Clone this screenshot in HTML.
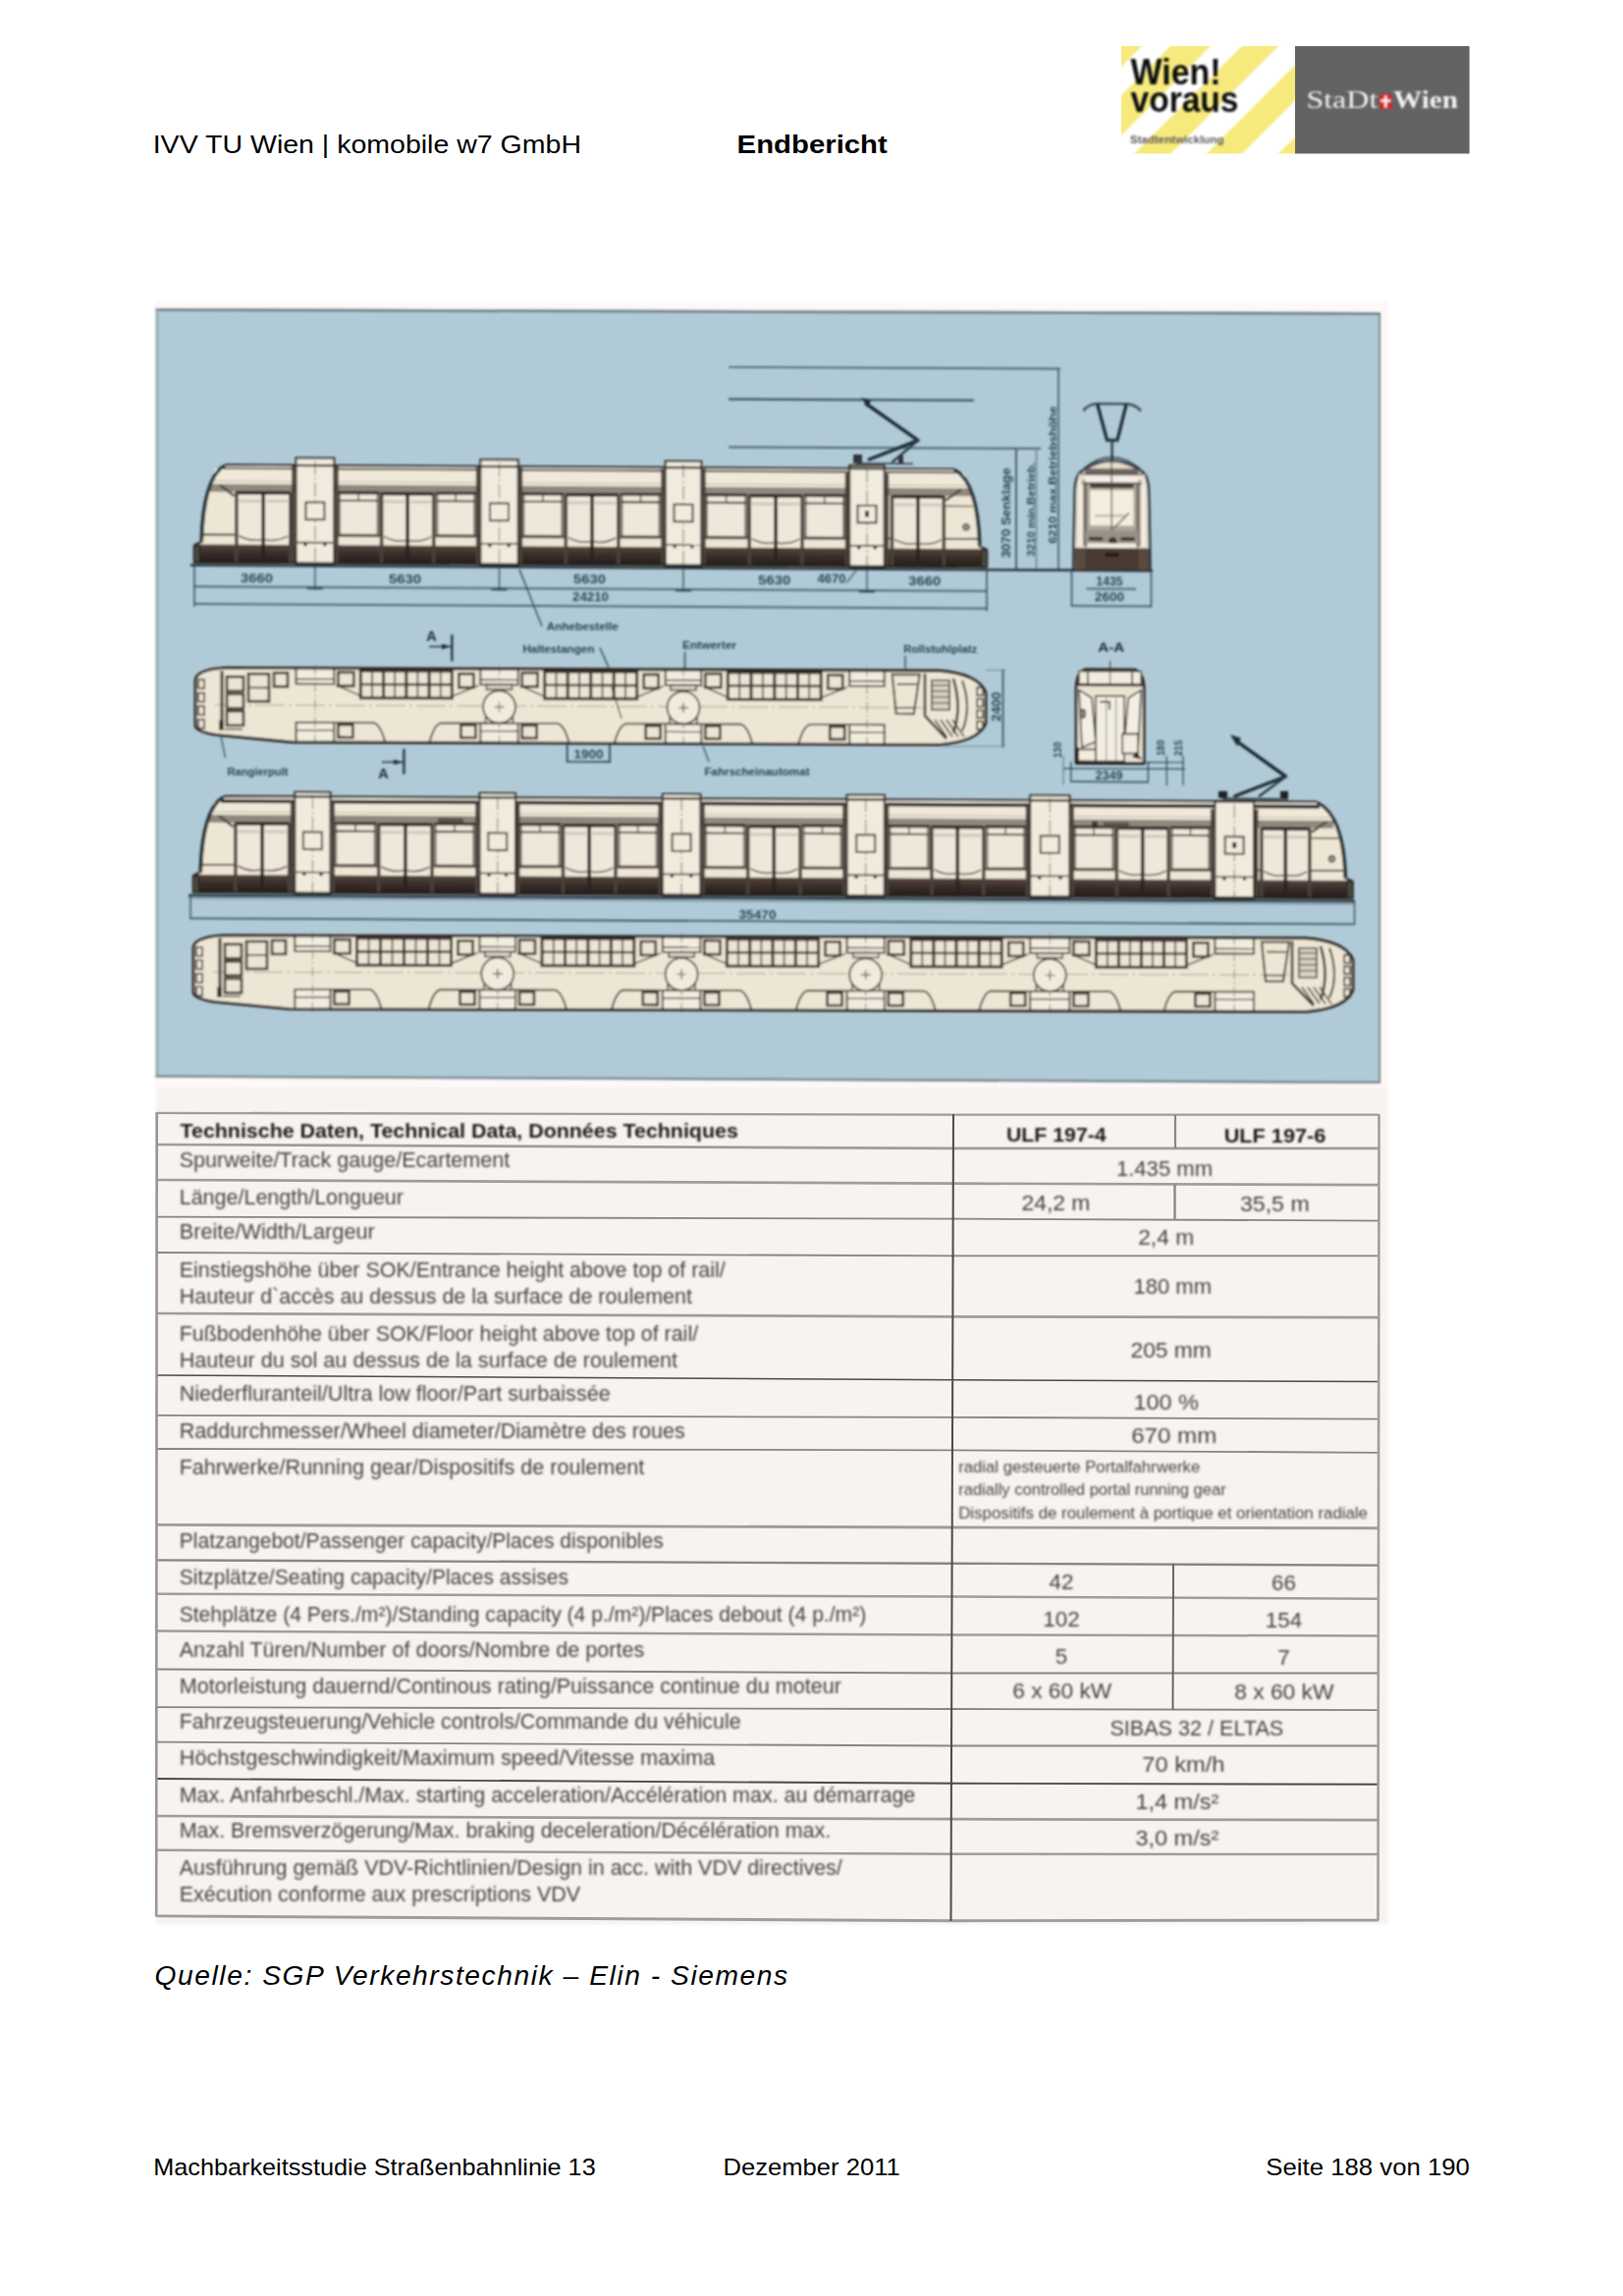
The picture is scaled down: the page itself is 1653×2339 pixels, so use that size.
<!DOCTYPE html>
<html><head><meta charset="utf-8"><title>Endbericht</title>
<style>
html,body{margin:0;padding:0;background:#fff;}
svg{display:block;}

</style></head><body>
<svg width="1653" height="2339" viewBox="0 0 1653 2339">
<defs>
<filter id="b1" x="-2%" y="-2%" width="104%" height="104%"><feGaussianBlur stdDeviation="0.85"/></filter>
<filter id="b2" x="-2%" y="-2%" width="104%" height="104%"><feGaussianBlur stdDeviation="0.55"/></filter>
<filter id="b3" x="-5%" y="-5%" width="110%" height="110%"><feGaussianBlur stdDeviation="0.9"/></filter>
<linearGradient id="skg" x1="0" y1="0" x2="0" y2="1"><stop offset="0" stop-color="#57473f"/><stop offset="0.45" stop-color="#3a2f2a"/><stop offset="1" stop-color="#241d1a"/></linearGradient>
<clipPath id="lc"><rect x="1142" y="47" width="177" height="109.5"/></clipPath>
</defs>
<text x="155.7" y="156.2" font-size="26.5" font-weight="normal" font-style="normal" fill="#000" font-family="Liberation Sans" text-anchor="start" textLength="436.3" lengthAdjust="spacingAndGlyphs" >IVV TU Wien | komobile w7 GmbH</text>
<text x="750.6" y="156.2" font-size="26.5" font-weight="bold" font-style="normal" fill="#000" font-family="Liberation Sans" text-anchor="start" textLength="153.2" lengthAdjust="spacingAndGlyphs" >Endbericht</text>
<text x="157.6" y="2021.8" font-size="28.2" font-weight="normal" font-style="italic" fill="#000" font-family="Liberation Sans" text-anchor="start" textLength="644.5" lengthAdjust="spacing" >Quelle:  SGP Verkehrstechnik – Elin - Siemens</text>
<text x="156.2" y="2215.5" font-size="23.4" font-weight="normal" font-style="normal" fill="#000" font-family="Liberation Sans" text-anchor="start" textLength="450.5" lengthAdjust="spacingAndGlyphs" >Machbarkeitsstudie Straßenbahnlinie 13</text>
<text x="736.5" y="2215.5" font-size="23.4" font-weight="normal" font-style="normal" fill="#000" font-family="Liberation Sans" text-anchor="start" textLength="180.3" lengthAdjust="spacingAndGlyphs" >Dezember 2011</text>
<text x="1289.3" y="2215.5" font-size="23.4" font-weight="normal" font-style="normal" fill="#000" font-family="Liberation Sans" text-anchor="start" textLength="207.6" lengthAdjust="spacingAndGlyphs" >Seite 188 von 190</text>
<rect x="1142.0" y="47.0" width="177.0" height="109.5" fill="#ffffff" />
<g clip-path="url(#lc)"><g filter="url(#b3)">
<path d="M1125,41 L1169,41 L1047.5,162.5 L1003.5,162.5 Z" fill="#f6ea7c" />
<path d="M1198,41 L1239,41 L1117.5,162.5 L1076.5,162.5 Z" fill="#f6ea7c" />
<path d="M1271,41 L1308,41 L1186.5,162.5 L1149.5,162.5 Z" fill="#f6ea7c" />
<path d="M1344.5,41 L1380.5,41 L1259.0,162.5 L1223.0,162.5 Z" fill="#f6ea7c" />
<path d="M1417.7,41 L1453.7,41 L1332.2,162.5 L1296.2,162.5 Z" fill="#f6ea7c" />
</g>
</g>
<g filter="url(#b1)">
<text x="1151.5" y="86.4" font-size="36" font-weight="bold" font-style="normal" fill="#111" font-family="Liberation Sans" text-anchor="start" textLength="92.0" lengthAdjust="spacingAndGlyphs" >Wien!</text>
<text x="1151.5" y="113.5" font-size="36" font-weight="bold" font-style="normal" fill="#111" font-family="Liberation Sans" text-anchor="start" textLength="110.0" lengthAdjust="spacingAndGlyphs" >voraus</text>
<text x="1151.0" y="146.0" font-size="10.5" font-weight="bold" font-style="normal" fill="#5a5a5a" font-family="Liberation Sans" text-anchor="start" textLength="95.5" lengthAdjust="spacingAndGlyphs" >Stadtentwicklung</text>
</g>
<rect x="1319.0" y="47.0" width="177.6" height="109.5" fill="#636363" />
<g filter="url(#b1)">
<text x="1330.4" y="109.5" font-size="26" font-weight="normal" font-style="normal" fill="#f2f2f2" font-family="Liberation Serif" text-anchor="start" textLength="73.0" lengthAdjust="spacingAndGlyphs" >StaDt</text>
<rect x="1405.0" y="96.0" width="12.5" height="14.8" fill="#d8232a" />
<rect x="1410.2" y="97.5" width="2.2" height="12.0" fill="#fff" />
<rect x="1406.3" y="101.5" width="10.0" height="2.2" fill="#fff" />
<text x="1419.0" y="109.5" font-size="26" font-weight="bold" font-style="normal" fill="#f2f2f2" font-family="Liberation Serif" text-anchor="start" textLength="66.0" lengthAdjust="spacingAndGlyphs" >Wien</text>
</g>
<g filter="url(#b1)">
<rect x="158.5" y="307.5" width="1255.5" height="1653.0" fill="#f8f3f1" />
<rect x="158.5" y="307.5" width="1255.5" height="800.0" fill="#fcf9f8" />
<path d="M158.5,314 L1406,318 L1406,1103.7 L158.5,1097.3 Z" fill="#b0cbd7" />
<path d="M158.5,315.5 L1406,319.5" fill="none" stroke="#6f8088" stroke-width="3" />
<path d="M160,315 L160,1097" fill="none" stroke="#98a8ab" stroke-width="2.6" />
<path d="M1405.3,319 L1405.3,1103" fill="none" stroke="#5c676b" stroke-width="1.7" />
<path d="M158.5,1096.5 L1406,1102.8" fill="none" stroke="#74868e" stroke-width="2.6" />
</g>
<g filter="url(#b1)">
<line x1="742.0" y1="374.0" x2="1080.0" y2="375.6" stroke="#3f5560" stroke-width="1.6" />
<line x1="742.0" y1="406.6" x2="992.0" y2="407.8" stroke="#3f5560" stroke-width="2.2" />
<line x1="742.0" y1="455.6" x2="1060.0" y2="457.0" stroke="#4f6570" stroke-width="2.0" />
<line x1="1078.0" y1="375.0" x2="1078.0" y2="580.3" stroke="#4f6570" stroke-width="1.8" />
<line x1="1035.0" y1="457.0" x2="1035.0" y2="580.0" stroke="#3f5560" stroke-width="1.8" />
<line x1="1055.5" y1="457.0" x2="1055.5" y2="580.0" stroke="#6f858f" stroke-width="1.6" />
<g transform="matrix(1,0.0058,0,1,0,-1.148)">
<path d="M198,573 L198,555.5 L206,551.5 Q208,485.5 230,473.5 L971,473.5 Q995,485.5 997,551.5 L1005,555.5 L1005,573 Z" fill="#eee6d4" />
<rect x="228.0" y="473.5" width="745.0" height="4.5" fill="#f7f3ea" />
<rect x="226.0" y="476.0" width="749.0" height="2.0" fill="#2a2421" />
<rect x="218.0" y="478.0" width="765.0" height="15.0" fill="#f0e9d9" />
<rect x="212.0" y="493.0" width="777.0" height="8.0" fill="#8f887e" />
<line x1="216.0" y1="490.0" x2="985.0" y2="490.0" stroke="#bdb5a8" stroke-width="1" />
<line x1="206.0" y1="544.5" x2="997.0" y2="544.5" stroke="#4b413b" stroke-width="1.6" />
<path d="M198,573 L198,556.5 Q198,554.5 201,554.5 L1002,554.5 Q1005,554.5 1005,556.5 L1005,573 Z" fill="url(#skg)" />
<rect x="240.5" y="501.0" width="55.5" height="52.5" fill="#efe8da" />
<rect x="240.5" y="500.0" width="55.5" height="3.5" fill="#2a2421" />
<rect x="239.0" y="501.0" width="3.6" height="72.0" fill="#4b413b" />
<rect x="294.0" y="501.0" width="3.6" height="72.0" fill="#4b413b" />
<rect x="266.4" y="501.0" width="3.6" height="72.0" fill="#2a2421" />
<line x1="243.5" y1="510.0" x2="265.2" y2="510.0" stroke="#cfc8ba" stroke-width="3" />
<line x1="271.2" y1="510.0" x2="293.0" y2="510.0" stroke="#cfc8ba" stroke-width="3" />
<path d="M243.5,545.5 Q254.375,551.5 266.25,549.5" fill="none" stroke="#4b413b" stroke-width="1.5" />
<path d="M293.0,545.5 Q282.125,551.5 270.25,549.5" fill="none" stroke="#4b413b" stroke-width="1.5" />
<path d="M224,494 L238.5,505" fill="none" stroke="#4b413b" stroke-width="2.4" />
<line x1="207.0" y1="544.5" x2="238.5" y2="544.5" stroke="#4b413b" stroke-width="1.8" />
<rect x="345.3" y="501.0" width="40.0" height="43.5" fill="#efe8da" stroke="#7d756c" stroke-width="3.4" />
<line x1="344.3" y1="501.0" x2="386.3" y2="501.0" stroke="#2a2421" stroke-width="2.6" />
<line x1="344.3" y1="544.5" x2="386.3" y2="544.5" stroke="#4b413b" stroke-width="2.2" />
<line x1="345.3" y1="509.0" x2="385.3" y2="509.0" stroke="#2a2421" stroke-width="1.8" />
<line x1="365.3" y1="501.0" x2="365.3" y2="509.0" stroke="#4b413b" stroke-width="1.4" />
<rect x="388.3" y="501.0" width="53.6" height="52.5" fill="#efe8da" />
<rect x="388.3" y="500.0" width="53.6" height="3.5" fill="#2a2421" />
<rect x="386.8" y="501.0" width="3.6" height="72.0" fill="#4b413b" />
<rect x="439.9" y="501.0" width="3.6" height="72.0" fill="#4b413b" />
<rect x="413.3" y="501.0" width="3.6" height="72.0" fill="#2a2421" />
<line x1="391.3" y1="510.0" x2="412.1" y2="510.0" stroke="#cfc8ba" stroke-width="3" />
<line x1="418.1" y1="510.0" x2="438.9" y2="510.0" stroke="#cfc8ba" stroke-width="3" />
<path d="M391.278,545.5 Q401.688,551.5 413.098,549.5" fill="none" stroke="#4b413b" stroke-width="1.5" />
<path d="M438.918,545.5 Q428.50800000000004,551.5 417.098,549.5" fill="none" stroke="#4b413b" stroke-width="1.5" />
<rect x="444.6" y="501.0" width="39.2" height="43.5" fill="#efe8da" stroke="#7d756c" stroke-width="3.4" />
<line x1="443.6" y1="501.0" x2="484.8" y2="501.0" stroke="#2a2421" stroke-width="2.6" />
<line x1="443.6" y1="544.5" x2="484.8" y2="544.5" stroke="#4b413b" stroke-width="2.2" />
<line x1="444.6" y1="509.0" x2="483.8" y2="509.0" stroke="#2a2421" stroke-width="1.8" />
<line x1="464.2" y1="501.0" x2="464.2" y2="509.0" stroke="#4b413b" stroke-width="1.4" />
<rect x="532.7" y="501.0" width="40.3" height="43.5" fill="#efe8da" stroke="#7d756c" stroke-width="3.4" />
<line x1="531.7" y1="501.0" x2="574.0" y2="501.0" stroke="#2a2421" stroke-width="2.6" />
<line x1="531.7" y1="544.5" x2="574.0" y2="544.5" stroke="#4b413b" stroke-width="2.2" />
<line x1="532.7" y1="509.0" x2="573.0" y2="509.0" stroke="#2a2421" stroke-width="1.8" />
<line x1="552.9" y1="501.0" x2="552.9" y2="509.0" stroke="#4b413b" stroke-width="1.4" />
<rect x="576.0" y="501.0" width="54.0" height="52.5" fill="#efe8da" />
<rect x="576.0" y="500.0" width="54.0" height="3.5" fill="#2a2421" />
<rect x="574.5" y="501.0" width="3.6" height="72.0" fill="#4b413b" />
<rect x="628.0" y="501.0" width="3.6" height="72.0" fill="#4b413b" />
<rect x="601.2" y="501.0" width="3.6" height="72.0" fill="#2a2421" />
<line x1="579.0" y1="510.0" x2="600.0" y2="510.0" stroke="#cfc8ba" stroke-width="3" />
<line x1="606.0" y1="510.0" x2="627.0" y2="510.0" stroke="#cfc8ba" stroke-width="3" />
<path d="M579.0,545.5 Q589.5,551.5 601.0,549.5" fill="none" stroke="#4b413b" stroke-width="1.5" />
<path d="M627.0,545.5 Q616.5,551.5 605.0,549.5" fill="none" stroke="#4b413b" stroke-width="1.5" />
<rect x="632.7" y="501.0" width="39.5" height="43.5" fill="#efe8da" stroke="#7d756c" stroke-width="3.4" />
<line x1="631.7" y1="501.0" x2="673.2" y2="501.0" stroke="#2a2421" stroke-width="2.6" />
<line x1="631.7" y1="544.5" x2="673.2" y2="544.5" stroke="#4b413b" stroke-width="2.2" />
<line x1="632.7" y1="509.0" x2="672.2" y2="509.0" stroke="#2a2421" stroke-width="1.8" />
<line x1="652.5" y1="501.0" x2="652.5" y2="509.0" stroke="#4b413b" stroke-width="1.4" />
<rect x="719.3" y="501.0" width="40.6" height="43.5" fill="#efe8da" stroke="#7d756c" stroke-width="3.4" />
<line x1="718.3" y1="501.0" x2="760.9" y2="501.0" stroke="#2a2421" stroke-width="2.6" />
<line x1="718.3" y1="544.5" x2="760.9" y2="544.5" stroke="#4b413b" stroke-width="2.2" />
<line x1="719.3" y1="509.0" x2="759.9" y2="509.0" stroke="#2a2421" stroke-width="1.8" />
<line x1="739.6" y1="501.0" x2="739.6" y2="509.0" stroke="#4b413b" stroke-width="1.4" />
<rect x="762.9" y="501.0" width="54.3" height="52.5" fill="#efe8da" />
<rect x="762.9" y="500.0" width="54.3" height="3.5" fill="#2a2421" />
<rect x="761.4" y="501.0" width="3.6" height="72.0" fill="#4b413b" />
<rect x="815.2" y="501.0" width="3.6" height="72.0" fill="#4b413b" />
<rect x="788.3" y="501.0" width="3.6" height="72.0" fill="#2a2421" />
<line x1="765.9" y1="510.0" x2="787.1" y2="510.0" stroke="#cfc8ba" stroke-width="3" />
<line x1="793.1" y1="510.0" x2="814.2" y2="510.0" stroke="#cfc8ba" stroke-width="3" />
<path d="M765.8898,545.5 Q776.4708,551.5 788.0518,549.5" fill="none" stroke="#4b413b" stroke-width="1.5" />
<path d="M814.2138,545.5 Q803.6328,551.5 792.0518,549.5" fill="none" stroke="#4b413b" stroke-width="1.5" />
<rect x="819.9" y="501.0" width="39.8" height="43.5" fill="#efe8da" stroke="#7d756c" stroke-width="3.4" />
<line x1="818.9" y1="501.0" x2="860.7" y2="501.0" stroke="#2a2421" stroke-width="2.6" />
<line x1="818.9" y1="544.5" x2="860.7" y2="544.5" stroke="#4b413b" stroke-width="2.2" />
<line x1="819.9" y1="509.0" x2="859.7" y2="509.0" stroke="#2a2421" stroke-width="1.8" />
<line x1="839.8" y1="501.0" x2="839.8" y2="509.0" stroke="#4b413b" stroke-width="1.4" />
<rect x="908.2" y="501.0" width="53.3" height="52.5" fill="#efe8da" />
<rect x="908.2" y="500.0" width="53.3" height="3.5" fill="#2a2421" />
<rect x="906.7" y="501.0" width="3.6" height="72.0" fill="#4b413b" />
<rect x="959.5" y="501.0" width="3.6" height="72.0" fill="#4b413b" />
<rect x="933.1" y="501.0" width="3.6" height="72.0" fill="#2a2421" />
<line x1="911.2" y1="510.0" x2="931.9" y2="510.0" stroke="#cfc8ba" stroke-width="3" />
<line x1="937.9" y1="510.0" x2="958.5" y2="510.0" stroke="#cfc8ba" stroke-width="3" />
<path d="M911.2,545.5 Q921.5250000000001,551.5 932.85,549.5" fill="none" stroke="#4b413b" stroke-width="1.5" />
<path d="M958.5,545.5 Q948.175,551.5 936.85,549.5" fill="none" stroke="#4b413b" stroke-width="1.5" />
<path d="M979,494 L963.5,505" fill="none" stroke="#4b413b" stroke-width="2.4" />
<line x1="996.0" y1="544.5" x2="963.5" y2="544.5" stroke="#4b413b" stroke-width="1.8" />
<line x1="963.5" y1="511.0" x2="991.0" y2="511.0" stroke="#4b413b" stroke-width="1.4" />
<circle cx="984" cy="532.5" r="3.2" fill="#9a9288" stroke="#4b413b" stroke-width="1.2"/>
<rect x="301.5" y="466.0" width="38.8" height="108.0" fill="#f1ebdd" stroke="#2a2421" stroke-width="2" />
<line x1="320.9" y1="469.0" x2="320.9" y2="574.0" stroke="#7b736b" stroke-width="1" stroke-dasharray="14 3 2 3"/>
<rect x="311.4" y="511.0" width="19.0" height="17.5" fill="#f1ebdd" stroke="#4b413b" stroke-width="2" />
<line x1="301.5" y1="552.0" x2="340.3" y2="552.0" stroke="#4b413b" stroke-width="1.6" />
<rect x="309.5" y="552.0" width="3.0" height="3.5" fill="#2a2421" />
<rect x="329.3" y="552.0" width="3.0" height="3.5" fill="#2a2421" />
<rect x="297.0" y="474.0" width="3.5" height="99.0" fill="#4b413b" />
<rect x="341.3" y="474.0" width="3.5" height="99.0" fill="#4b413b" />
<rect x="489.3" y="466.5" width="38.4" height="107.5" fill="#f1ebdd" stroke="#2a2421" stroke-width="2" />
<line x1="508.5" y1="469.5" x2="508.5" y2="574.0" stroke="#7b736b" stroke-width="1" stroke-dasharray="14 3 2 3"/>
<rect x="499.0" y="511.0" width="19.0" height="17.5" fill="#f1ebdd" stroke="#4b413b" stroke-width="2" />
<line x1="489.3" y1="552.0" x2="527.7" y2="552.0" stroke="#4b413b" stroke-width="1.6" />
<rect x="497.3" y="552.0" width="3.0" height="3.5" fill="#2a2421" />
<rect x="516.7" y="552.0" width="3.0" height="3.5" fill="#2a2421" />
<rect x="484.8" y="474.5" width="3.5" height="98.5" fill="#4b413b" />
<rect x="528.7" y="474.5" width="3.5" height="98.5" fill="#4b413b" />
<rect x="677.7" y="467.0" width="36.6" height="107.0" fill="#f1ebdd" stroke="#2a2421" stroke-width="2" />
<line x1="696.0" y1="470.0" x2="696.0" y2="574.0" stroke="#7b736b" stroke-width="1" stroke-dasharray="14 3 2 3"/>
<rect x="686.5" y="511.0" width="19.0" height="17.5" fill="#f1ebdd" stroke="#4b413b" stroke-width="2" />
<line x1="677.7" y1="552.0" x2="714.3" y2="552.0" stroke="#4b413b" stroke-width="1.6" />
<rect x="685.7" y="552.0" width="3.0" height="3.5" fill="#2a2421" />
<rect x="703.3" y="552.0" width="3.0" height="3.5" fill="#2a2421" />
<rect x="673.2" y="475.0" width="3.5" height="98.0" fill="#4b413b" />
<rect x="715.3" y="475.0" width="3.5" height="98.0" fill="#4b413b" />
<rect x="865.2" y="470.5" width="35.5" height="103.5" fill="#f1ebdd" stroke="#2a2421" stroke-width="2" />
<line x1="883.0" y1="473.5" x2="883.0" y2="574.0" stroke="#7b736b" stroke-width="1" stroke-dasharray="14 3 2 3"/>
<rect x="873.5" y="511.0" width="19.0" height="17.5" fill="#f1ebdd" stroke="#4b413b" stroke-width="2" />
<rect x="881.0" y="516.5" width="4.0" height="6.0" fill="#2a2421" />
<line x1="865.2" y1="552.0" x2="900.7" y2="552.0" stroke="#4b413b" stroke-width="1.6" />
<rect x="873.2" y="552.0" width="3.0" height="3.5" fill="#2a2421" />
<rect x="889.7" y="552.0" width="3.0" height="3.5" fill="#2a2421" />
<rect x="860.7" y="478.5" width="3.5" height="94.5" fill="#4b413b" />
<rect x="901.7" y="478.5" width="3.5" height="94.5" fill="#4b413b" />
<path d="M198,573 L198,555.5 L206,551.5 Q208,485.5 230,473.5 L971,473.5 Q995,485.5 997,551.5 L1005,555.5 L1005,573 Z" fill="none" stroke="#2a2421" stroke-width="2.2" />
<path d="M205,550.5 Q207,487.5 228,474.5" fill="none" stroke="#27323a" stroke-width="3.2" />
<path d="M998,550.5 Q996,487.5 973,474.5" fill="none" stroke="#27323a" stroke-width="3.2" />
<rect x="197.5" y="555.5" width="6.0" height="17.5" fill="#4a4a42" stroke="#2a2421" stroke-width="1.5" rx="2"/>
<rect x="999.5" y="555.5" width="6.0" height="17.5" fill="#4a4a42" stroke="#2a2421" stroke-width="1.5" rx="2"/>
</g>
<g transform="matrix(1,0.0058,0,1,0,-1.148)">
<line x1="194.0" y1="575.8" x2="1174.0" y2="575.8" stroke="#27323a" stroke-width="2.6" />
<line x1="198.0" y1="597.5" x2="1005.0" y2="597.5" stroke="#2a4757" stroke-width="1.5" />
<line x1="198.0" y1="615.3" x2="1005.0" y2="615.3" stroke="#2a4757" stroke-width="1.5" />
<line x1="198.0" y1="576.0" x2="198.0" y2="618.0" stroke="#2a4757" stroke-width="1.4" />
<line x1="1005.0" y1="576.0" x2="1005.0" y2="618.0" stroke="#2a4757" stroke-width="1.4" />
<line x1="320.9" y1="576.0" x2="320.9" y2="600.0" stroke="#2a4757" stroke-width="1.2" />
<line x1="312.9" y1="598.5" x2="328.9" y2="598.5" stroke="#2a4757" stroke-width="2.2" />
<line x1="508.5" y1="576.0" x2="508.5" y2="600.0" stroke="#2a4757" stroke-width="1.2" />
<line x1="500.5" y1="598.5" x2="516.5" y2="598.5" stroke="#2a4757" stroke-width="2.2" />
<line x1="696.0" y1="576.0" x2="696.0" y2="600.0" stroke="#2a4757" stroke-width="1.2" />
<line x1="688.0" y1="598.5" x2="704.0" y2="598.5" stroke="#2a4757" stroke-width="2.2" />
<line x1="883.0" y1="576.0" x2="883.0" y2="600.0" stroke="#2a4757" stroke-width="1.2" />
<line x1="875.0" y1="598.5" x2="891.0" y2="598.5" stroke="#2a4757" stroke-width="2.2" />
<text x="261.5" y="593.3" font-size="13.5" font-weight="bold" font-style="normal" fill="#2a4757" font-family="Liberation Sans" text-anchor="middle" textLength="33.0" lengthAdjust="spacingAndGlyphs" >3660</text>
<text x="412.4" y="593.3" font-size="13.5" font-weight="bold" font-style="normal" fill="#2a4757" font-family="Liberation Sans" text-anchor="middle" textLength="33.0" lengthAdjust="spacingAndGlyphs" >5630</text>
<text x="600.5" y="592.5" font-size="13.5" font-weight="bold" font-style="normal" fill="#2a4757" font-family="Liberation Sans" text-anchor="middle" textLength="33.0" lengthAdjust="spacingAndGlyphs" >5630</text>
<text x="788.7" y="592.5" font-size="13.5" font-weight="bold" font-style="normal" fill="#2a4757" font-family="Liberation Sans" text-anchor="middle" textLength="33.0" lengthAdjust="spacingAndGlyphs" >5630</text>
<text x="941.7" y="592.5" font-size="13.5" font-weight="bold" font-style="normal" fill="#2a4757" font-family="Liberation Sans" text-anchor="middle" textLength="33.0" lengthAdjust="spacingAndGlyphs" >3660</text>
<text x="847.0" y="590.0" font-size="12" font-weight="bold" font-style="normal" fill="#2a4757" font-family="Liberation Sans" text-anchor="middle" textLength="29.0" lengthAdjust="spacingAndGlyphs" >4670</text>
<line x1="862.0" y1="590.0" x2="872.0" y2="577.0" stroke="#2a4757" stroke-width="1.2" />
<text x="601.5" y="610.5" font-size="13" font-weight="bold" font-style="normal" fill="#2a4757" font-family="Liberation Sans" text-anchor="middle" textLength="37.0" lengthAdjust="spacingAndGlyphs" >24210</text>
</g>
<line x1="529.0" y1="580.0" x2="552.0" y2="638.0" stroke="#2a4757" stroke-width="1.3" />
<path d="M881,410.5 L935,448.7 L884,468.5" fill="none" stroke="#1d2a33" stroke-width="3.4" stroke-linejoin="round"/>
<path d="M935,448.7 L908.5,471" fill="none" stroke="#2d3a43" stroke-width="2.4" />
<path d="M877,405 L887,408 L884,415 Z" fill="#1d2a33" />
<rect x="869.0" y="463.0" width="9.0" height="9.0" fill="#30363a" />
<rect x="915.0" y="464.0" width="5.0" height="8.0" fill="#30363a" />
<line x1="872.0" y1="472.0" x2="930.0" y2="472.5" stroke="#30363a" stroke-width="1.6" />
<text transform="translate(1029,568.6) rotate(-90)" font-size="12" font-weight="bold" fill="#2a4757" font-family="Liberation Sans" textLength="92" lengthAdjust="spacingAndGlyphs">3070 Senklage</text>
<text transform="translate(1054,567) rotate(-90)" font-size="11.5" font-weight="bold" fill="#2a4757" font-family="Liberation Sans" textLength="96" lengthAdjust="spacingAndGlyphs">3210 min.Betrieb.</text>
<text transform="translate(1075.5,553.8) rotate(-90)" font-size="11.5" font-weight="bold" fill="#2a4757" font-family="Liberation Sans" textLength="140" lengthAdjust="spacingAndGlyphs">6210 max.Betriebshöhe</text>
<g transform="matrix(1,0.0058,0,1,0,-1.148)">
<path d="M1093.2,575.0 L1094.7,495.0 Q1095.2,478.0 1103.2,474.0 Q1132.35,454.0 1161.5,474.0 Q1169.5,478.0 1170.0,495.0 L1171.5,575.0 Z" fill="#e6ddcd" stroke="#27323a" stroke-width="2.6" />
<rect x="1105.2" y="472.0" width="54.3" height="7.0" fill="#6d655d" />
<rect x="1101.2" y="478.0" width="62.3" height="9.0" fill="#f4efe6" stroke="#4b413b" stroke-width="1.2" />
<rect x="1106.2" y="487.0" width="52.3" height="64.0" fill="#b0a79b" stroke="#4b413b" stroke-width="1.6" />
<rect x="1110.2" y="494.0" width="44.3" height="36.0" fill="#f3eedd" />
<rect x="1110.2" y="488.0" width="44.3" height="3.5" fill="#3f3631" />
<line x1="1115.2" y1="520.0" x2="1145.5" y2="520.0" stroke="#8d857a" stroke-width="1.2" />
<line x1="1132.3" y1="459.0" x2="1132.3" y2="535.0" stroke="#4b413b" stroke-width="1.2" />
<line x1="1134.0" y1="533.0" x2="1150.0" y2="517.0" stroke="#6d655d" stroke-width="1.6" />
<rect x="1105.2" y="535.0" width="54.3" height="13.0" fill="#9a9185" />
<rect x="1109.2" y="542.0" width="14.0" height="3.0" fill="#2a2421" />
<rect x="1141.5" y="542.0" width="14.0" height="3.0" fill="#2a2421" />
<circle cx="1133.35" cy="546.0" r="4.2" fill="#3a302b"/>
<rect x="1107.2" y="548.0" width="50.3" height="5.0" fill="#f2ece0" />
<rect x="1094.7" y="553.0" width="75.3" height="22.0" fill="#5a4840" />
<rect x="1105.2" y="553.0" width="54.3" height="22.0" fill="#493a33" />
<rect x="1125.3" y="558.0" width="14.0" height="3.5" fill="#1d1613" />
<line x1="1100.2" y1="478.0" x2="1100.2" y2="551.0" stroke="#f6f2ea" stroke-width="2.6" />
<line x1="1164.5" y1="478.0" x2="1164.5" y2="551.0" stroke="#f6f2ea" stroke-width="2.6" />
<line x1="1104.2" y1="483.0" x2="1104.2" y2="551.0" stroke="#5d544d" stroke-width="1.4" />
<line x1="1160.5" y1="483.0" x2="1160.5" y2="551.0" stroke="#5d544d" stroke-width="1.4" />
<path d="M1103.5,413 Q1108,407 1117,406 L1148,406 Q1157,407 1162,413" fill="none" stroke="#27323a" stroke-width="2.2" />
<path d="M1117.6,406 L1127.5,443 L1138,443 L1147.2,406" fill="none" stroke="#1d2a33" stroke-width="3.2" stroke-linejoin="round"/>
<line x1="1132.6" y1="443.0" x2="1132.6" y2="463.0" stroke="#27323a" stroke-width="2.2" />
<path d="M1104,472.0 Q1132,449.0 1161,472.0" fill="none" stroke="#27323a" stroke-width="1.6" />
<line x1="1091.5" y1="576.0" x2="1091.5" y2="613.0" stroke="#2a4757" stroke-width="1.4" />
<line x1="1172.5" y1="576.0" x2="1172.5" y2="613.0" stroke="#2a4757" stroke-width="1.4" />
<line x1="1091.5" y1="612.0" x2="1172.5" y2="612.0" stroke="#2a4757" stroke-width="1.6" />
<line x1="1106.5" y1="594.5" x2="1157.0" y2="594.5" stroke="#2a4757" stroke-width="1.4" />
<text x="1130.0" y="591.5" font-size="13" font-weight="bold" font-style="normal" fill="#2a4757" font-family="Liberation Sans" text-anchor="middle" textLength="27.0" lengthAdjust="spacingAndGlyphs" >1435</text>
<text x="1130.0" y="607.5" font-size="13" font-weight="bold" font-style="normal" fill="#2a4757" font-family="Liberation Sans" text-anchor="middle" textLength="30.0" lengthAdjust="spacingAndGlyphs" >2600</text>
</g>
</g>
<g filter="url(#b1)">
<g transform="matrix(1,0.0039,0,1,0,-0.776)">
<path d="M229,680.3 L956,680.3 Q996,683.3 1004,702.3 L1004,733.6 Q996,752.6 956,755.6 L297,755.6 L221,748.6 Q201,745.6 199,739.6 L199,692.3 Q201,682.3 229,680.3 Z" fill="#eee6d4" />
<line x1="219.0" y1="718.0" x2="944.0" y2="718.0" stroke="#a8a093" stroke-width="1" stroke-dasharray="30 4 3 4"/>
<line x1="226.0" y1="683.3" x2="226.0" y2="743.6" stroke="#3a322d" stroke-width="3" />
<rect x="202.0" y="692.3" width="6.0" height="9.0" fill="#ece4d4" stroke="#3a322d" stroke-width="1.6" />
<rect x="202.0" y="705.8" width="6.0" height="9.0" fill="#ece4d4" stroke="#3a322d" stroke-width="1.6" />
<rect x="202.0" y="719.3" width="6.0" height="9.0" fill="#ece4d4" stroke="#3a322d" stroke-width="1.6" />
<rect x="202.0" y="732.8" width="6.0" height="9.0" fill="#ece4d4" stroke="#3a322d" stroke-width="1.6" />
<rect x="231.0" y="689.3" width="17.0" height="14.5" fill="#ece4d4" stroke="#3a322d" stroke-width="2.6" />
<rect x="231.0" y="706.8" width="17.0" height="14.5" fill="#ece4d4" stroke="#3a322d" stroke-width="2.6" />
<rect x="231.0" y="724.3" width="17.0" height="14.5" fill="#ece4d4" stroke="#3a322d" stroke-width="2.6" />
<rect x="253.0" y="686.3" width="21.0" height="28.0" fill="#ece4d4" stroke="#3a322d" stroke-width="2.6" />
<line x1="253.0" y1="700.3" x2="274.0" y2="700.3" stroke="#3a322d" stroke-width="1.6" />
<rect x="279.0" y="685.3" width="14.0" height="14.0" fill="#ece4d4" stroke="#3a322d" stroke-width="2.6" />
<rect x="223.0" y="733.6" width="5.0" height="10.0" fill="#3a322d" />
<line x1="229.0" y1="742.6" x2="247.0" y2="742.6" stroke="#3a322d" stroke-width="1.4" />
<rect x="344.3" y="684.3" width="16.0" height="14.0" fill="#ece4d4" stroke="#3a322d" stroke-width="2.6" />
<rect x="367.3" y="682.8" width="93.0" height="27.5" fill="#ece4d4" stroke="#3a322d" stroke-width="3" />
<line x1="367.3" y1="696.5" x2="460.3" y2="696.5" stroke="#3a322d" stroke-width="2.4" />
<line x1="378.9" y1="682.8" x2="378.9" y2="710.3" stroke="#3a322d" stroke-width="1.5" />
<line x1="390.6" y1="682.8" x2="390.6" y2="710.3" stroke="#3a322d" stroke-width="3" />
<line x1="402.2" y1="682.8" x2="402.2" y2="710.3" stroke="#3a322d" stroke-width="1.5" />
<line x1="413.8" y1="682.8" x2="413.8" y2="710.3" stroke="#3a322d" stroke-width="3" />
<line x1="425.4" y1="682.8" x2="425.4" y2="710.3" stroke="#3a322d" stroke-width="1.5" />
<line x1="437.1" y1="682.8" x2="437.1" y2="710.3" stroke="#3a322d" stroke-width="3" />
<line x1="448.7" y1="682.8" x2="448.7" y2="710.3" stroke="#3a322d" stroke-width="1.5" />
<rect x="467.3" y="685.3" width="15.0" height="14.0" fill="#ece4d4" stroke="#3a322d" stroke-width="2.6" />
<line x1="342.3" y1="697.3" x2="367.3" y2="708.3" stroke="#3a322d" stroke-width="1.4" />
<line x1="487.3" y1="697.3" x2="460.3" y2="708.3" stroke="#3a322d" stroke-width="1.4" />
<path d="M341.3,735.6 L380.3,735.6 Q387.3,736.6 392.3,755.6" fill="none" stroke="#3a322d" stroke-width="1.8" />
<rect x="344.3" y="737.6" width="15.0" height="13.0" fill="#ece4d4" stroke="#3a322d" stroke-width="2.6" />
<path d="M488.3,735.6 L449.3,735.6 Q442.3,736.6 437.3,755.6" fill="none" stroke="#3a322d" stroke-width="1.8" />
<rect x="469.3" y="737.6" width="15.0" height="13.0" fill="#ece4d4" stroke="#3a322d" stroke-width="2.6" />
<rect x="531.7" y="684.3" width="16.0" height="14.0" fill="#ece4d4" stroke="#3a322d" stroke-width="2.6" />
<rect x="554.7" y="682.8" width="94.0" height="27.5" fill="#ece4d4" stroke="#3a322d" stroke-width="3" />
<line x1="554.7" y1="696.5" x2="648.7" y2="696.5" stroke="#3a322d" stroke-width="2.4" />
<line x1="566.5" y1="682.8" x2="566.5" y2="710.3" stroke="#3a322d" stroke-width="1.5" />
<line x1="578.2" y1="682.8" x2="578.2" y2="710.3" stroke="#3a322d" stroke-width="3" />
<line x1="590.0" y1="682.8" x2="590.0" y2="710.3" stroke="#3a322d" stroke-width="1.5" />
<line x1="601.7" y1="682.8" x2="601.7" y2="710.3" stroke="#3a322d" stroke-width="3" />
<line x1="613.5" y1="682.8" x2="613.5" y2="710.3" stroke="#3a322d" stroke-width="1.5" />
<line x1="625.2" y1="682.8" x2="625.2" y2="710.3" stroke="#3a322d" stroke-width="3" />
<line x1="637.0" y1="682.8" x2="637.0" y2="710.3" stroke="#3a322d" stroke-width="1.5" />
<rect x="655.7" y="685.3" width="15.0" height="14.0" fill="#ece4d4" stroke="#3a322d" stroke-width="2.6" />
<line x1="529.7" y1="697.3" x2="554.7" y2="708.3" stroke="#3a322d" stroke-width="1.4" />
<line x1="675.7" y1="697.3" x2="648.7" y2="708.3" stroke="#3a322d" stroke-width="1.4" />
<path d="M528.7,735.6 L567.7,735.6 Q574.7,736.6 579.7,755.6" fill="none" stroke="#3a322d" stroke-width="1.8" />
<rect x="531.7" y="737.6" width="15.0" height="13.0" fill="#ece4d4" stroke="#3a322d" stroke-width="2.6" />
<path d="M676.7,735.6 L637.7,735.6 Q630.7,736.6 625.7,755.6" fill="none" stroke="#3a322d" stroke-width="1.8" />
<rect x="657.7" y="737.6" width="15.0" height="13.0" fill="#ece4d4" stroke="#3a322d" stroke-width="2.6" />
<rect x="718.3" y="684.3" width="16.0" height="14.0" fill="#ece4d4" stroke="#3a322d" stroke-width="2.6" />
<rect x="741.3" y="682.8" width="94.9" height="27.5" fill="#ece4d4" stroke="#3a322d" stroke-width="3" />
<line x1="741.3" y1="696.5" x2="836.2" y2="696.5" stroke="#3a322d" stroke-width="2.4" />
<line x1="753.2" y1="682.8" x2="753.2" y2="710.3" stroke="#3a322d" stroke-width="1.5" />
<line x1="765.0" y1="682.8" x2="765.0" y2="710.3" stroke="#3a322d" stroke-width="3" />
<line x1="776.9" y1="682.8" x2="776.9" y2="710.3" stroke="#3a322d" stroke-width="1.5" />
<line x1="788.8" y1="682.8" x2="788.8" y2="710.3" stroke="#3a322d" stroke-width="3" />
<line x1="800.6" y1="682.8" x2="800.6" y2="710.3" stroke="#3a322d" stroke-width="1.5" />
<line x1="812.5" y1="682.8" x2="812.5" y2="710.3" stroke="#3a322d" stroke-width="3" />
<line x1="824.3" y1="682.8" x2="824.3" y2="710.3" stroke="#3a322d" stroke-width="1.5" />
<rect x="843.2" y="685.3" width="15.0" height="14.0" fill="#ece4d4" stroke="#3a322d" stroke-width="2.6" />
<line x1="716.3" y1="697.3" x2="741.3" y2="708.3" stroke="#3a322d" stroke-width="1.4" />
<line x1="863.2" y1="697.3" x2="836.2" y2="708.3" stroke="#3a322d" stroke-width="1.4" />
<path d="M715.3,735.6 L754.3,735.6 Q761.3,736.6 766.3,755.6" fill="none" stroke="#3a322d" stroke-width="1.8" />
<rect x="718.3" y="737.6" width="15.0" height="13.0" fill="#ece4d4" stroke="#3a322d" stroke-width="2.6" />
<path d="M864.2,735.6 L825.2,735.6 Q818.2,736.6 813.2,755.6" fill="none" stroke="#3a322d" stroke-width="1.8" />
<rect x="845.2" y="737.6" width="15.0" height="13.0" fill="#ece4d4" stroke="#3a322d" stroke-width="2.6" />
<rect x="301.5" y="680.3" width="38.8" height="16.0" fill="#f2ecdf" stroke="#3a322d" stroke-width="1.8" />
<rect x="301.5" y="735.6" width="38.8" height="20.0" fill="#f2ecdf" stroke="#3a322d" stroke-width="1.8" />
<line x1="301.5" y1="691.3" x2="340.3" y2="691.3" stroke="#3a322d" stroke-width="1.4" />
<line x1="301.5" y1="743.6" x2="340.3" y2="743.6" stroke="#3a322d" stroke-width="1.2" />
<line x1="320.9" y1="676.3" x2="320.9" y2="760.6" stroke="#8d857a" stroke-width="1" stroke-dasharray="10 3 2 3"/>
<rect x="489.3" y="680.3" width="38.4" height="16.0" fill="#f2ecdf" stroke="#3a322d" stroke-width="1.8" />
<rect x="489.3" y="735.6" width="38.4" height="20.0" fill="#f2ecdf" stroke="#3a322d" stroke-width="1.8" />
<line x1="489.3" y1="691.3" x2="527.7" y2="691.3" stroke="#3a322d" stroke-width="1.4" />
<line x1="489.3" y1="743.6" x2="527.7" y2="743.6" stroke="#3a322d" stroke-width="1.2" />
<line x1="508.5" y1="676.3" x2="508.5" y2="760.6" stroke="#8d857a" stroke-width="1" stroke-dasharray="10 3 2 3"/>
<rect x="677.7" y="680.3" width="36.6" height="16.0" fill="#f2ecdf" stroke="#3a322d" stroke-width="1.8" />
<rect x="677.7" y="735.6" width="36.6" height="20.0" fill="#f2ecdf" stroke="#3a322d" stroke-width="1.8" />
<line x1="677.7" y1="691.3" x2="714.3" y2="691.3" stroke="#3a322d" stroke-width="1.4" />
<line x1="677.7" y1="743.6" x2="714.3" y2="743.6" stroke="#3a322d" stroke-width="1.2" />
<line x1="696.0" y1="676.3" x2="696.0" y2="760.6" stroke="#8d857a" stroke-width="1" stroke-dasharray="10 3 2 3"/>
<rect x="865.2" y="680.3" width="35.5" height="16.0" fill="#f2ecdf" stroke="#3a322d" stroke-width="1.8" />
<rect x="865.2" y="735.6" width="35.5" height="20.0" fill="#f2ecdf" stroke="#3a322d" stroke-width="1.8" />
<line x1="865.2" y1="691.3" x2="900.7" y2="691.3" stroke="#3a322d" stroke-width="1.4" />
<line x1="865.2" y1="743.6" x2="900.7" y2="743.6" stroke="#3a322d" stroke-width="1.2" />
<line x1="883.0" y1="676.3" x2="883.0" y2="760.6" stroke="#8d857a" stroke-width="1" stroke-dasharray="10 3 2 3"/>
</g>
<g transform="matrix(1,0.0039,0,1,0,-0.776)">
<rect x="495.5" y="696.3" width="26.0" height="5.0" fill="#ddd5c6" stroke="#3a322d" stroke-width="1.4" />
<rect x="494.5" y="729.6" width="28.0" height="6.0" fill="#ddd5c6" stroke="#3a322d" stroke-width="1.4" />
<circle cx="508.5" cy="718.95" r="16.5" fill="#f1ebdd" stroke="#3a322d" stroke-width="1.7"/>
<line x1="503.5" y1="719.0" x2="513.5" y2="719.0" stroke="#3a322d" stroke-width="1" />
<line x1="508.5" y1="714.0" x2="508.5" y2="724.0" stroke="#3a322d" stroke-width="1" />
<rect x="683.0" y="696.3" width="26.0" height="5.0" fill="#ddd5c6" stroke="#3a322d" stroke-width="1.4" />
<rect x="682.0" y="729.6" width="28.0" height="6.0" fill="#ddd5c6" stroke="#3a322d" stroke-width="1.4" />
<circle cx="696.0" cy="718.95" r="16.5" fill="#f1ebdd" stroke="#3a322d" stroke-width="1.7"/>
<line x1="691.0" y1="719.0" x2="701.0" y2="719.0" stroke="#3a322d" stroke-width="1" />
<line x1="696.0" y1="714.0" x2="696.0" y2="724.0" stroke="#3a322d" stroke-width="1" />
</g>
<g transform="matrix(1,0.0039,0,1,0,-0.776)">
<path d="M908.7,684.3 L936.7,684.3 L930.7,724.3 L912.7,724.3 Z" fill="none" stroke="#3a322d" stroke-width="2" />
<line x1="913.7" y1="694.3" x2="933.7" y2="694.3" stroke="#3a322d" stroke-width="1.6" />
<line x1="912.7" y1="718.3" x2="930.7" y2="718.3" stroke="#3a322d" stroke-width="1.4" />
<path d="M942,683.3 L942,726.3 L964,749.6" fill="none" stroke="#3a322d" stroke-width="2.6" />
<rect x="949.0" y="690.3" width="18.0" height="30.0" fill="#d9d1c3" stroke="#3a322d" stroke-width="1.6" />
<line x1="950.0" y1="695.3" x2="966.0" y2="695.3" stroke="#6d655d" stroke-width="1.4" />
<line x1="950.0" y1="701.3" x2="966.0" y2="701.3" stroke="#6d655d" stroke-width="1.4" />
<line x1="950.0" y1="707.3" x2="966.0" y2="707.3" stroke="#6d655d" stroke-width="1.4" />
<line x1="950.0" y1="713.3" x2="966.0" y2="713.3" stroke="#6d655d" stroke-width="1.4" />
<path d="M971,688.3 Q980,717.95 971,743.6" fill="none" stroke="#3a322d" stroke-width="2.6" />
<path d="M980,690.3 Q990,717.95 980,741.6" fill="none" stroke="#3a322d" stroke-width="2" />
<line x1="952.0" y1="730.3" x2="964.0" y2="747.6" stroke="#3a322d" stroke-width="1.6" />
<line x1="958.0" y1="730.3" x2="970.0" y2="747.6" stroke="#3a322d" stroke-width="1.6" />
<line x1="964.0" y1="730.3" x2="976.0" y2="747.6" stroke="#3a322d" stroke-width="1.6" />
<line x1="970.0" y1="730.3" x2="982.0" y2="747.6" stroke="#3a322d" stroke-width="1.6" />
<rect x="995.0" y="697.3" width="6.0" height="8.0" fill="#ece4d4" stroke="#3a322d" stroke-width="1.6" />
<rect x="995.0" y="708.8" width="6.0" height="8.0" fill="#ece4d4" stroke="#3a322d" stroke-width="1.6" />
<rect x="995.0" y="720.3" width="6.0" height="8.0" fill="#ece4d4" stroke="#3a322d" stroke-width="1.6" />
<rect x="995.0" y="731.8" width="6.0" height="8.0" fill="#ece4d4" stroke="#3a322d" stroke-width="1.6" />
</g>
<g transform="matrix(1,0.0039,0,1,0,-0.776)">
<path d="M229,680.3 L956,680.3 Q996,683.3 1004,702.3 L1004,733.6 Q996,752.6 956,755.6 L297,755.6 L221,748.6 Q201,745.6 199,739.6 L199,692.3 Q201,682.3 229,680.3 Z" fill="none" stroke="#2a2421" stroke-width="2.8" />
</g>
<line x1="1004.0" y1="682.8" x2="1024.0" y2="682.8" stroke="#6f858f" stroke-width="1" />
<line x1="960.0" y1="760.3" x2="1024.0" y2="760.3" stroke="#6f858f" stroke-width="1" />
<line x1="1021.5" y1="682.0" x2="1021.5" y2="761.0" stroke="#2a4757" stroke-width="1.6" />
<text transform="translate(1019,735) rotate(-90)" font-size="12" font-weight="bold" fill="#2a4757" font-family="Liberation Sans" textLength="30" lengthAdjust="spacingAndGlyphs">2400</text>
<g transform="matrix(1,0.0039,0,1,0,-0.776)">
<path d="M577.7,756 L577.7,774.5 L621,774.5 L621,756" fill="none" stroke="#2a4757" stroke-width="1.8" />
<text x="599.4" y="771.0" font-size="12.5" font-weight="bold" font-style="normal" fill="#2a4757" font-family="Liberation Sans" text-anchor="middle" textLength="30.0" lengthAdjust="spacingAndGlyphs" >1900</text>
</g>
<text x="439.5" y="653.0" font-size="15" font-weight="bold" font-style="normal" fill="#1d2a33" font-family="Liberation Sans" text-anchor="middle" textLength="10.5" lengthAdjust="spacingAndGlyphs" >A</text>
<line x1="460.3" y1="646.5" x2="460.3" y2="673.5" stroke="#1d2a33" stroke-width="2.2" />
<line x1="437.0" y1="658.6" x2="460.0" y2="658.6" stroke="#1d2a33" stroke-width="1.4" />
<path d="M450,656 L459,658.6 L450,661.4 Z" fill="#1d2a33" />
<text x="390.5" y="793.0" font-size="15" font-weight="bold" font-style="normal" fill="#1d2a33" font-family="Liberation Sans" text-anchor="middle" textLength="10.5" lengthAdjust="spacingAndGlyphs" >A</text>
<line x1="411.4" y1="763.0" x2="411.4" y2="788.6" stroke="#1d2a33" stroke-width="2.2" />
<line x1="389.0" y1="776.4" x2="411.0" y2="776.4" stroke="#1d2a33" stroke-width="1.4" />
<path d="M401,773.7 L410,776.4 L401,779.1 Z" fill="#1d2a33" />
<text x="556.8" y="641.5" font-size="10.5" font-weight="bold" font-style="normal" fill="#274554" font-family="Liberation Sans" text-anchor="start" textLength="73.0" lengthAdjust="spacingAndGlyphs" >Anhebestelle</text>
<text x="532.4" y="665.0" font-size="10.5" font-weight="bold" font-style="normal" fill="#274554" font-family="Liberation Sans" text-anchor="start" textLength="73.0" lengthAdjust="spacingAndGlyphs" >Haltestangen</text>
<line x1="611.0" y1="660.0" x2="620.0" y2="680.0" stroke="#2a4757" stroke-width="1.4" />
<text x="695.0" y="660.5" font-size="10.5" font-weight="bold" font-style="normal" fill="#274554" font-family="Liberation Sans" text-anchor="start" textLength="55.0" lengthAdjust="spacingAndGlyphs" >Entwerter</text>
<line x1="697.5" y1="664.0" x2="697.5" y2="682.0" stroke="#2a4757" stroke-width="1.4" />
<text x="920.3" y="665.0" font-size="10.5" font-weight="bold" font-style="normal" fill="#274554" font-family="Liberation Sans" text-anchor="start" textLength="75.0" lengthAdjust="spacingAndGlyphs" >Rollstuhlplatz</text>
<line x1="922.0" y1="668.0" x2="922.0" y2="684.0" stroke="#2a4757" stroke-width="1.3" />
<text x="231.5" y="789.5" font-size="10.5" font-weight="bold" font-style="normal" fill="#274554" font-family="Liberation Sans" text-anchor="start" textLength="62.0" lengthAdjust="spacingAndGlyphs" >Rangierpult</text>
<line x1="225.0" y1="750.0" x2="229.5" y2="772.0" stroke="#2a4757" stroke-width="1.2" />
<text x="717.5" y="790.0" font-size="10.5" font-weight="bold" font-style="normal" fill="#274554" font-family="Liberation Sans" text-anchor="start" textLength="107.0" lengthAdjust="spacingAndGlyphs" >Fahrscheinautomat</text>
<line x1="716.0" y1="760.0" x2="722.0" y2="776.0" stroke="#2a4757" stroke-width="1.2" />
<line x1="623.0" y1="700.0" x2="633.0" y2="732.0" stroke="#3a322d" stroke-width="1.1" />
</g>
<g filter="url(#b1)">
<g transform="matrix(1,0.004,0,1,0,-0.796)">
<path d="M1096,773.8 L1096,699.3 Q1096,681.3 1106,678.3 L1155.2,678.3 Q1165.2,681.3 1165.2,699.3 L1165.2,773.8 Z" fill="#ebe3d2" stroke="#2a2421" stroke-width="2.8" />
<rect x="1099.0" y="680.3" width="63.2" height="13.0" fill="#f2ecdf" stroke="#3a322d" stroke-width="1.4" />
<line x1="1108.0" y1="680.3" x2="1108.0" y2="693.3" stroke="#3a322d" stroke-width="1.6" />
<line x1="1153.2" y1="680.3" x2="1153.2" y2="693.3" stroke="#3a322d" stroke-width="1.6" />
<line x1="1096.0" y1="694.3" x2="1165.2" y2="694.3" stroke="#2a2421" stroke-width="2.4" />
<path d="M1099,699.3 L1112,707.3 L1116,751.8 L1102,757.8 Z" fill="#f4efe4" stroke="#3a322d" stroke-width="1.6" />
<path d="M1162.2,699.3 L1149.2,707.3 L1145.2,751.8 L1159.2,757.8 Z" fill="#f4efe4" stroke="#3a322d" stroke-width="1.6" />
<rect x="1116.0" y="705.3" width="29.2" height="66.5" fill="#f3eee2" stroke="#3a322d" stroke-width="1.6" />
<line x1="1126.6" y1="707.3" x2="1126.6" y2="771.8" stroke="#9a9286" stroke-width="1.2" />
<line x1="1136.6" y1="707.3" x2="1136.6" y2="771.8" stroke="#9a9286" stroke-width="1.2" />
<path d="M1120,711.3 L1130,711.3 L1130,719.3" fill="none" stroke="#3a322d" stroke-width="1.8" />
<ellipse cx="1103" cy="723.3" rx="2.6" ry="4.5" fill="#8d857a" stroke="#3a322d" stroke-width="1"/>
<rect x="1098.0" y="759.8" width="18.0" height="12.0" fill="#f2ecdf" stroke="#3a322d" stroke-width="1.6" />
<rect x="1143.2" y="743.8" width="16.0" height="20.0" fill="#f2ecdf" stroke="#3a322d" stroke-width="1.6" />
<path d="M1157.2,761.8 L1163.2,769.8 L1153.2,767.8 Z" fill="#2a2421" />
<line x1="1096.0" y1="773.8" x2="1165.2" y2="773.8" stroke="#2a2421" stroke-width="3" />
<rect x="1096.0" y="757.8" width="3.0" height="16.0" fill="#2a2421" />
<line x1="1130.6" y1="669.3" x2="1130.6" y2="693.3" stroke="#3a322d" stroke-width="1" />
<text x="1131.7" y="660.3" font-size="13.5" font-weight="bold" font-style="normal" fill="#1d2a33" font-family="Liberation Sans" text-anchor="middle" textLength="27.0" lengthAdjust="spacingAndGlyphs" >A-A</text>
<line x1="1083.0" y1="779.3" x2="1207.0" y2="779.3" stroke="#2a4757" stroke-width="1.3" />
<line x1="1090.7" y1="772.3" x2="1090.7" y2="793.3" stroke="#2a4757" stroke-width="1.3" />
<line x1="1169.4" y1="772.3" x2="1169.4" y2="793.3" stroke="#2a4757" stroke-width="1.3" />
<line x1="1090.7" y1="792.8" x2="1169.4" y2="792.8" stroke="#2a4757" stroke-width="1.5" />
<text x="1129.5" y="790.3" font-size="12.5" font-weight="bold" font-style="normal" fill="#2a4757" font-family="Liberation Sans" text-anchor="middle" textLength="28.0" lengthAdjust="spacingAndGlyphs" >2349</text>
<line x1="1167.0" y1="772.7" x2="1206.0" y2="772.7" stroke="#2a4757" stroke-width="1.2" />
<line x1="1188.3" y1="766.3" x2="1188.3" y2="796.3" stroke="#2a4757" stroke-width="1.2" />
<line x1="1205.0" y1="766.3" x2="1205.0" y2="796.3" stroke="#2a4757" stroke-width="1.2" />
<line x1="1083.0" y1="766.3" x2="1083.0" y2="796.3" stroke="#5f7580" stroke-width="1.1" />
</g>
<text transform="translate(1081,772) rotate(-90)" font-size="11" font-weight="bold" fill="#2a4757" font-family="Liberation Sans" textLength="16" lengthAdjust="spacingAndGlyphs">130</text>
<text transform="translate(1186,770) rotate(-90)" font-size="11" font-weight="bold" fill="#2a4757" font-family="Liberation Sans" textLength="16" lengthAdjust="spacingAndGlyphs">180</text>
<text transform="translate(1203.5,770) rotate(-90)" font-size="11" font-weight="bold" fill="#2a4757" font-family="Liberation Sans" textLength="16" lengthAdjust="spacingAndGlyphs">215</text>
</g>
<g filter="url(#b1)">
<g transform="matrix(1,0.0051,0,1,0,-1.005)">
<path d="M197,909 L197,892 L205,888 Q207,823 229,811 L1340,811 Q1367.5,823 1369.5,888 L1377.5,892 L1377.5,909 Z" fill="#eee6d4" />
<rect x="227.0" y="811.0" width="1115.0" height="7.0" fill="#f7f3ea" />
<rect x="225.0" y="814.0" width="1119.0" height="4.0" fill="#2a2421" />
<rect x="217.0" y="818.0" width="1135.0" height="12.0" fill="#f0e9d9" />
<rect x="211.0" y="830.0" width="1147.0" height="8.0" fill="#8f887e" />
<line x1="215.0" y1="827.0" x2="1354.0" y2="827.0" stroke="#bdb5a8" stroke-width="1" />
<line x1="205.0" y1="881.0" x2="1369.5" y2="881.0" stroke="#4b413b" stroke-width="1.6" />
<path d="M197,909 L197,893 Q197,891 200,891 L1374.5,891 Q1377.5,891 1377.5,893 L1377.5,909 Z" fill="url(#skg)" />
<rect x="239.5" y="838.0" width="55.3" height="52.0" fill="#efe8da" />
<rect x="239.5" y="837.0" width="55.3" height="3.5" fill="#2a2421" />
<rect x="238.0" y="838.0" width="3.6" height="71.0" fill="#4b413b" />
<rect x="292.8" y="838.0" width="3.6" height="71.0" fill="#4b413b" />
<rect x="265.3" y="838.0" width="3.6" height="71.0" fill="#2a2421" />
<line x1="242.5" y1="847.0" x2="264.1" y2="847.0" stroke="#cfc8ba" stroke-width="3" />
<line x1="270.1" y1="847.0" x2="291.8" y2="847.0" stroke="#cfc8ba" stroke-width="3" />
<path d="M242.5,882 Q253.325,888 265.15,886" fill="none" stroke="#4b413b" stroke-width="1.5" />
<path d="M291.8,882 Q280.975,888 269.15,886" fill="none" stroke="#4b413b" stroke-width="1.5" />
<path d="M223,831 L237.5,842" fill="none" stroke="#4b413b" stroke-width="2.4" />
<line x1="206.0" y1="881.0" x2="237.5" y2="881.0" stroke="#4b413b" stroke-width="1.8" />
<rect x="341.5" y="838.0" width="40.9" height="43.0" fill="#efe8da" stroke="#7d756c" stroke-width="3.4" />
<line x1="340.5" y1="838.0" x2="383.4" y2="838.0" stroke="#2a2421" stroke-width="2.6" />
<line x1="340.5" y1="881.0" x2="383.4" y2="881.0" stroke="#4b413b" stroke-width="2.2" />
<line x1="341.5" y1="846.0" x2="382.4" y2="846.0" stroke="#2a2421" stroke-width="1.8" />
<line x1="362.0" y1="838.0" x2="362.0" y2="846.0" stroke="#4b413b" stroke-width="1.4" />
<rect x="385.4" y="838.0" width="54.7" height="52.0" fill="#efe8da" />
<rect x="385.4" y="837.0" width="54.7" height="3.5" fill="#2a2421" />
<rect x="383.9" y="838.0" width="3.6" height="71.0" fill="#4b413b" />
<rect x="438.2" y="838.0" width="3.6" height="71.0" fill="#4b413b" />
<rect x="411.0" y="838.0" width="3.6" height="71.0" fill="#2a2421" />
<line x1="388.4" y1="847.0" x2="409.8" y2="847.0" stroke="#cfc8ba" stroke-width="3" />
<line x1="415.8" y1="847.0" x2="437.2" y2="847.0" stroke="#cfc8ba" stroke-width="3" />
<path d="M388.444,882 Q399.124,888 410.804,886" fill="none" stroke="#4b413b" stroke-width="1.5" />
<path d="M437.164,882 Q426.484,888 414.804,886" fill="none" stroke="#4b413b" stroke-width="1.5" />
<rect x="442.9" y="838.0" width="40.1" height="43.0" fill="#efe8da" stroke="#7d756c" stroke-width="3.4" />
<line x1="441.9" y1="838.0" x2="484.0" y2="838.0" stroke="#2a2421" stroke-width="2.6" />
<line x1="441.9" y1="881.0" x2="484.0" y2="881.0" stroke="#4b413b" stroke-width="2.2" />
<line x1="442.9" y1="846.0" x2="483.0" y2="846.0" stroke="#2a2421" stroke-width="1.8" />
<line x1="462.9" y1="838.0" x2="462.9" y2="846.0" stroke="#4b413b" stroke-width="1.4" />
<rect x="530.0" y="838.0" width="40.2" height="43.0" fill="#efe8da" stroke="#7d756c" stroke-width="3.4" />
<line x1="529.0" y1="838.0" x2="571.2" y2="838.0" stroke="#2a2421" stroke-width="2.6" />
<line x1="529.0" y1="881.0" x2="571.2" y2="881.0" stroke="#4b413b" stroke-width="2.2" />
<line x1="530.0" y1="846.0" x2="570.2" y2="846.0" stroke="#2a2421" stroke-width="1.8" />
<line x1="550.1" y1="838.0" x2="550.1" y2="846.0" stroke="#4b413b" stroke-width="1.4" />
<rect x="573.2" y="838.0" width="53.9" height="52.0" fill="#efe8da" />
<rect x="573.2" y="837.0" width="53.9" height="3.5" fill="#2a2421" />
<rect x="571.7" y="838.0" width="3.6" height="71.0" fill="#4b413b" />
<rect x="625.2" y="838.0" width="3.6" height="71.0" fill="#4b413b" />
<rect x="598.4" y="838.0" width="3.6" height="71.0" fill="#2a2421" />
<line x1="576.2" y1="847.0" x2="597.2" y2="847.0" stroke="#cfc8ba" stroke-width="3" />
<line x1="603.2" y1="847.0" x2="624.2" y2="847.0" stroke="#cfc8ba" stroke-width="3" />
<path d="M576.2356,882 Q586.7176,888 598.1995999999999,886" fill="none" stroke="#4b413b" stroke-width="1.5" />
<path d="M624.1636,882 Q613.6815999999999,888 602.1995999999999,886" fill="none" stroke="#4b413b" stroke-width="1.5" />
<rect x="629.9" y="838.0" width="39.4" height="43.0" fill="#efe8da" stroke="#7d756c" stroke-width="3.4" />
<line x1="628.9" y1="838.0" x2="670.3" y2="838.0" stroke="#2a2421" stroke-width="2.6" />
<line x1="628.9" y1="881.0" x2="670.3" y2="881.0" stroke="#4b413b" stroke-width="2.2" />
<line x1="629.9" y1="846.0" x2="669.3" y2="846.0" stroke="#2a2421" stroke-width="1.8" />
<line x1="649.6" y1="838.0" x2="649.6" y2="846.0" stroke="#4b413b" stroke-width="1.4" />
<rect x="718.4" y="838.0" width="40.1" height="43.0" fill="#efe8da" stroke="#7d756c" stroke-width="3.4" />
<line x1="717.4" y1="838.0" x2="759.5" y2="838.0" stroke="#2a2421" stroke-width="2.6" />
<line x1="717.4" y1="881.0" x2="759.5" y2="881.0" stroke="#4b413b" stroke-width="2.2" />
<line x1="718.4" y1="846.0" x2="758.5" y2="846.0" stroke="#2a2421" stroke-width="1.8" />
<line x1="738.4" y1="838.0" x2="738.4" y2="846.0" stroke="#4b413b" stroke-width="1.4" />
<rect x="761.4" y="838.0" width="53.7" height="52.0" fill="#efe8da" />
<rect x="761.4" y="837.0" width="53.7" height="3.5" fill="#2a2421" />
<rect x="759.9" y="838.0" width="3.6" height="71.0" fill="#4b413b" />
<rect x="813.2" y="838.0" width="3.6" height="71.0" fill="#4b413b" />
<rect x="786.5" y="838.0" width="3.6" height="71.0" fill="#2a2421" />
<line x1="764.4" y1="847.0" x2="785.3" y2="847.0" stroke="#cfc8ba" stroke-width="3" />
<line x1="791.3" y1="847.0" x2="812.2" y2="847.0" stroke="#cfc8ba" stroke-width="3" />
<path d="M764.4424,882 Q774.8704,888 786.2984,886" fill="none" stroke="#4b413b" stroke-width="1.5" />
<path d="M812.1544,882 Q801.7264,888 790.2984,886" fill="none" stroke="#4b413b" stroke-width="1.5" />
<rect x="817.8" y="838.0" width="39.3" height="43.0" fill="#efe8da" stroke="#7d756c" stroke-width="3.4" />
<line x1="816.8" y1="838.0" x2="858.1" y2="838.0" stroke="#2a2421" stroke-width="2.6" />
<line x1="816.8" y1="881.0" x2="858.1" y2="881.0" stroke="#4b413b" stroke-width="2.2" />
<line x1="817.8" y1="846.0" x2="857.1" y2="846.0" stroke="#2a2421" stroke-width="1.8" />
<line x1="837.5" y1="838.0" x2="837.5" y2="846.0" stroke="#4b413b" stroke-width="1.4" />
<rect x="905.8" y="838.0" width="39.8" height="43.0" fill="#efe8da" stroke="#7d756c" stroke-width="3.4" />
<line x1="904.8" y1="838.0" x2="946.6" y2="838.0" stroke="#2a2421" stroke-width="2.6" />
<line x1="904.8" y1="881.0" x2="946.6" y2="881.0" stroke="#4b413b" stroke-width="2.2" />
<line x1="905.8" y1="846.0" x2="945.6" y2="846.0" stroke="#2a2421" stroke-width="1.8" />
<line x1="925.7" y1="838.0" x2="925.7" y2="846.0" stroke="#4b413b" stroke-width="1.4" />
<rect x="948.6" y="838.0" width="53.4" height="52.0" fill="#efe8da" />
<rect x="948.6" y="837.0" width="53.4" height="3.5" fill="#2a2421" />
<rect x="947.1" y="838.0" width="3.6" height="71.0" fill="#4b413b" />
<rect x="1000.0" y="838.0" width="3.6" height="71.0" fill="#4b413b" />
<rect x="973.5" y="838.0" width="3.6" height="71.0" fill="#2a2421" />
<line x1="951.6" y1="847.0" x2="972.3" y2="847.0" stroke="#cfc8ba" stroke-width="3" />
<line x1="978.3" y1="847.0" x2="999.0" y2="847.0" stroke="#cfc8ba" stroke-width="3" />
<path d="M951.5848,882 Q961.9408000000001,888 973.2968000000001,886" fill="none" stroke="#4b413b" stroke-width="1.5" />
<path d="M999.0088000000001,882 Q988.6528000000001,888 977.2968000000001,886" fill="none" stroke="#4b413b" stroke-width="1.5" />
<rect x="1004.7" y="838.0" width="39.0" height="43.0" fill="#efe8da" stroke="#7d756c" stroke-width="3.4" />
<line x1="1003.7" y1="838.0" x2="1044.7" y2="838.0" stroke="#2a2421" stroke-width="2.6" />
<line x1="1003.7" y1="881.0" x2="1044.7" y2="881.0" stroke="#4b413b" stroke-width="2.2" />
<line x1="1004.7" y1="846.0" x2="1043.7" y2="846.0" stroke="#2a2421" stroke-width="1.8" />
<line x1="1024.2" y1="838.0" x2="1024.2" y2="846.0" stroke="#4b413b" stroke-width="1.4" />
<rect x="1094.4" y="838.0" width="39.7" height="43.0" fill="#efe8da" stroke="#7d756c" stroke-width="3.4" />
<line x1="1093.4" y1="838.0" x2="1135.1" y2="838.0" stroke="#2a2421" stroke-width="2.6" />
<line x1="1093.4" y1="881.0" x2="1135.1" y2="881.0" stroke="#4b413b" stroke-width="2.2" />
<line x1="1094.4" y1="846.0" x2="1134.1" y2="846.0" stroke="#2a2421" stroke-width="1.8" />
<line x1="1114.2" y1="838.0" x2="1114.2" y2="846.0" stroke="#4b413b" stroke-width="1.4" />
<rect x="1137.1" y="838.0" width="53.3" height="52.0" fill="#efe8da" />
<rect x="1137.1" y="837.0" width="53.3" height="3.5" fill="#2a2421" />
<rect x="1135.6" y="838.0" width="3.6" height="71.0" fill="#4b413b" />
<rect x="1188.3" y="838.0" width="3.6" height="71.0" fill="#4b413b" />
<rect x="1161.9" y="838.0" width="3.6" height="71.0" fill="#2a2421" />
<line x1="1140.1" y1="847.0" x2="1160.7" y2="847.0" stroke="#cfc8ba" stroke-width="3" />
<line x1="1166.7" y1="847.0" x2="1187.3" y2="847.0" stroke="#cfc8ba" stroke-width="3" />
<path d="M1140.056,882 Q1150.376,888 1161.696,886" fill="none" stroke="#4b413b" stroke-width="1.5" />
<path d="M1187.336,882 Q1177.016,888 1165.696,886" fill="none" stroke="#4b413b" stroke-width="1.5" />
<rect x="1193.0" y="838.0" width="38.9" height="43.0" fill="#efe8da" stroke="#7d756c" stroke-width="3.4" />
<line x1="1192.0" y1="838.0" x2="1232.9" y2="838.0" stroke="#2a2421" stroke-width="2.6" />
<line x1="1192.0" y1="881.0" x2="1232.9" y2="881.0" stroke="#4b413b" stroke-width="2.2" />
<line x1="1193.0" y1="846.0" x2="1231.9" y2="846.0" stroke="#2a2421" stroke-width="1.8" />
<line x1="1212.5" y1="838.0" x2="1212.5" y2="846.0" stroke="#4b413b" stroke-width="1.4" />
<rect x="1284.5" y="838.0" width="49.5" height="52.0" fill="#efe8da" />
<rect x="1284.5" y="837.0" width="49.5" height="3.5" fill="#2a2421" />
<rect x="1283.0" y="838.0" width="3.6" height="71.0" fill="#4b413b" />
<rect x="1332.0" y="838.0" width="3.6" height="71.0" fill="#4b413b" />
<rect x="1307.5" y="838.0" width="3.6" height="71.0" fill="#2a2421" />
<line x1="1287.5" y1="847.0" x2="1306.2" y2="847.0" stroke="#cfc8ba" stroke-width="3" />
<line x1="1312.2" y1="847.0" x2="1331.0" y2="847.0" stroke="#cfc8ba" stroke-width="3" />
<path d="M1287.5,882 Q1296.875,888 1307.25,886" fill="none" stroke="#4b413b" stroke-width="1.5" />
<path d="M1331.0,882 Q1321.625,888 1311.25,886" fill="none" stroke="#4b413b" stroke-width="1.5" />
<path d="M1351.5,831 L1336.0,842" fill="none" stroke="#4b413b" stroke-width="2.4" />
<line x1="1368.5" y1="881.0" x2="1336.0" y2="881.0" stroke="#4b413b" stroke-width="1.8" />
<line x1="1336.0" y1="848.0" x2="1363.5" y2="848.0" stroke="#4b413b" stroke-width="1.4" />
<circle cx="1356.5" cy="869" r="3.2" fill="#9a9288" stroke="#4b413b" stroke-width="1.2"/>
<rect x="300.3" y="806.5" width="36.2" height="103.5" fill="#f1ebdd" stroke="#2a2421" stroke-width="2" />
<line x1="318.4" y1="809.5" x2="318.4" y2="910.0" stroke="#7b736b" stroke-width="1" stroke-dasharray="14 3 2 3"/>
<rect x="308.9" y="847.0" width="19.0" height="17.5" fill="#f1ebdd" stroke="#4b413b" stroke-width="2" />
<line x1="300.3" y1="888.0" x2="336.5" y2="888.0" stroke="#4b413b" stroke-width="1.6" />
<rect x="308.3" y="888.0" width="3.0" height="3.5" fill="#2a2421" />
<rect x="325.5" y="888.0" width="3.0" height="3.5" fill="#2a2421" />
<rect x="295.8" y="814.5" width="3.5" height="94.5" fill="#4b413b" />
<rect x="337.5" y="814.5" width="3.5" height="94.5" fill="#4b413b" />
<rect x="488.5" y="806.5" width="36.5" height="103.5" fill="#f1ebdd" stroke="#2a2421" stroke-width="2" />
<line x1="506.8" y1="809.5" x2="506.8" y2="910.0" stroke="#7b736b" stroke-width="1" stroke-dasharray="14 3 2 3"/>
<rect x="497.2" y="847.0" width="19.0" height="17.5" fill="#f1ebdd" stroke="#4b413b" stroke-width="2" />
<line x1="488.5" y1="888.0" x2="525.0" y2="888.0" stroke="#4b413b" stroke-width="1.6" />
<rect x="496.5" y="888.0" width="3.0" height="3.5" fill="#2a2421" />
<rect x="514.0" y="888.0" width="3.0" height="3.5" fill="#2a2421" />
<rect x="484.0" y="814.5" width="3.5" height="94.5" fill="#4b413b" />
<rect x="526.0" y="814.5" width="3.5" height="94.5" fill="#4b413b" />
<rect x="674.8" y="806.5" width="38.6" height="103.5" fill="#f1ebdd" stroke="#2a2421" stroke-width="2" />
<line x1="694.1" y1="809.5" x2="694.1" y2="910.0" stroke="#7b736b" stroke-width="1" stroke-dasharray="14 3 2 3"/>
<rect x="684.6" y="847.0" width="19.0" height="17.5" fill="#f1ebdd" stroke="#4b413b" stroke-width="2" />
<line x1="674.8" y1="888.0" x2="713.4" y2="888.0" stroke="#4b413b" stroke-width="1.6" />
<rect x="682.8" y="888.0" width="3.0" height="3.5" fill="#2a2421" />
<rect x="702.4" y="888.0" width="3.0" height="3.5" fill="#2a2421" />
<rect x="670.3" y="814.5" width="3.5" height="94.5" fill="#4b413b" />
<rect x="714.4" y="814.5" width="3.5" height="94.5" fill="#4b413b" />
<rect x="862.6" y="806.5" width="38.2" height="103.5" fill="#f1ebdd" stroke="#2a2421" stroke-width="2" />
<line x1="881.7" y1="809.5" x2="881.7" y2="910.0" stroke="#7b736b" stroke-width="1" stroke-dasharray="14 3 2 3"/>
<rect x="872.2" y="847.0" width="19.0" height="17.5" fill="#f1ebdd" stroke="#4b413b" stroke-width="2" />
<line x1="862.6" y1="888.0" x2="900.8" y2="888.0" stroke="#4b413b" stroke-width="1.6" />
<rect x="870.6" y="888.0" width="3.0" height="3.5" fill="#2a2421" />
<rect x="889.8" y="888.0" width="3.0" height="3.5" fill="#2a2421" />
<rect x="858.1" y="814.5" width="3.5" height="94.5" fill="#4b413b" />
<rect x="901.8" y="814.5" width="3.5" height="94.5" fill="#4b413b" />
<rect x="1049.2" y="806.0" width="40.2" height="104.0" fill="#f1ebdd" stroke="#2a2421" stroke-width="2" />
<line x1="1069.3" y1="809.0" x2="1069.3" y2="910.0" stroke="#7b736b" stroke-width="1" stroke-dasharray="14 3 2 3"/>
<rect x="1059.8" y="847.0" width="19.0" height="17.5" fill="#f1ebdd" stroke="#4b413b" stroke-width="2" />
<line x1="1049.2" y1="888.0" x2="1089.4" y2="888.0" stroke="#4b413b" stroke-width="1.6" />
<rect x="1057.2" y="888.0" width="3.0" height="3.5" fill="#2a2421" />
<rect x="1078.4" y="888.0" width="3.0" height="3.5" fill="#2a2421" />
<rect x="1044.7" y="814.0" width="3.5" height="95.0" fill="#4b413b" />
<rect x="1090.4" y="814.0" width="3.5" height="95.0" fill="#4b413b" />
<rect x="1237.4" y="811.0" width="39.6" height="99.0" fill="#f1ebdd" stroke="#2a2421" stroke-width="2" />
<line x1="1257.2" y1="814.0" x2="1257.2" y2="910.0" stroke="#7b736b" stroke-width="1" stroke-dasharray="14 3 2 3"/>
<rect x="1247.7" y="847.0" width="19.0" height="17.5" fill="#f1ebdd" stroke="#4b413b" stroke-width="2" />
<rect x="1255.2" y="852.5" width="4.0" height="6.0" fill="#2a2421" />
<line x1="1237.4" y1="888.0" x2="1277.0" y2="888.0" stroke="#4b413b" stroke-width="1.6" />
<rect x="1245.4" y="888.0" width="3.0" height="3.5" fill="#2a2421" />
<rect x="1266.0" y="888.0" width="3.0" height="3.5" fill="#2a2421" />
<rect x="1232.9" y="819.0" width="3.5" height="90.0" fill="#4b413b" />
<rect x="1278.0" y="819.0" width="3.5" height="90.0" fill="#4b413b" />
<path d="M197,909 L197,892 L205,888 Q207,823 229,811 L1340,811 Q1367.5,823 1369.5,888 L1377.5,892 L1377.5,909 Z" fill="none" stroke="#2a2421" stroke-width="2.2" />
<path d="M204,887 Q206,825 227,812" fill="none" stroke="#27323a" stroke-width="3.2" />
<path d="M1370.5,887 Q1368.5,825 1342,812" fill="none" stroke="#27323a" stroke-width="3.2" />
<rect x="196.5" y="892.0" width="6.0" height="17.0" fill="#4a4a42" stroke="#2a2421" stroke-width="1.5" rx="2"/>
<rect x="1372.0" y="892.0" width="6.0" height="17.0" fill="#4a4a42" stroke="#2a2421" stroke-width="1.5" rx="2"/>
</g>
<g transform="matrix(1,0.0051,0,1,0,-1.005)">
<line x1="192.0" y1="912.3" x2="1380.0" y2="912.3" stroke="#2a3a44" stroke-width="3" />
<line x1="192.0" y1="915.0" x2="1380.0" y2="915.0" stroke="#8fa6b2" stroke-width="2.4" />
<line x1="193.0" y1="935.5" x2="1380.0" y2="935.5" stroke="#2a4757" stroke-width="1.6" />
<line x1="194.0" y1="913.0" x2="194.0" y2="936.0" stroke="#2a4757" stroke-width="1.3" />
<line x1="1379.5" y1="913.0" x2="1379.5" y2="936.0" stroke="#2a4757" stroke-width="1.3" />
<text x="771.5" y="933.0" font-size="12.5" font-weight="bold" font-style="normal" fill="#2a4757" font-family="Liberation Sans" text-anchor="middle" textLength="38.0" lengthAdjust="spacingAndGlyphs" >35470</text>
<rect x="446.0" y="832.0" width="26.0" height="5.0" fill="#5a5048" />
<rect x="1124.0" y="833.0" width="26.0" height="5.0" fill="#5a5048" />
<rect x="1112.0" y="832.0" width="6.0" height="5.0" fill="#3a322d" />
</g>
<path d="M1258.5,754.4 L1309.5,791 L1256.5,811.5" fill="none" stroke="#1d2a33" stroke-width="3.4" stroke-linejoin="round"/>
<path d="M1309.5,791 L1282,811.5" fill="none" stroke="#2d3a43" stroke-width="2.4" />
<path d="M1253,748.5 L1264,752 L1260,760 Z" fill="#1d2a33" />
<rect x="1241.0" y="806.0" width="9.0" height="7.0" fill="#1d2226" />
<rect x="1304.0" y="806.0" width="8.0" height="7.0" fill="#1d2226" />
<line x1="1245.0" y1="813.5" x2="1312.0" y2="814.2" stroke="#30363a" stroke-width="1.8" />
<g transform="matrix(1,0.0026,0,1,0,-0.512)">
<path d="M227,952.8 L1330,952.8 Q1370,955.8 1378,974.8 L1378,1005.5999999999999 Q1370,1024.6 1330,1027.6 L295,1027.6 L219,1020.5999999999999 Q199,1017.5999999999999 197,1011.5999999999999 L197,964.8 Q199,954.8 227,952.8 Z" fill="#eee6d4" />
<line x1="217.0" y1="990.2" x2="1318.0" y2="990.2" stroke="#a8a093" stroke-width="1" stroke-dasharray="30 4 3 4"/>
<line x1="224.0" y1="955.8" x2="224.0" y2="1015.6" stroke="#3a322d" stroke-width="3" />
<rect x="200.0" y="964.8" width="6.0" height="9.0" fill="#ece4d4" stroke="#3a322d" stroke-width="1.6" />
<rect x="200.0" y="978.3" width="6.0" height="9.0" fill="#ece4d4" stroke="#3a322d" stroke-width="1.6" />
<rect x="200.0" y="991.8" width="6.0" height="9.0" fill="#ece4d4" stroke="#3a322d" stroke-width="1.6" />
<rect x="200.0" y="1005.3" width="6.0" height="9.0" fill="#ece4d4" stroke="#3a322d" stroke-width="1.6" />
<rect x="229.0" y="961.8" width="17.0" height="14.5" fill="#ece4d4" stroke="#3a322d" stroke-width="2.6" />
<rect x="229.0" y="979.3" width="17.0" height="14.5" fill="#ece4d4" stroke="#3a322d" stroke-width="2.6" />
<rect x="229.0" y="996.8" width="17.0" height="14.5" fill="#ece4d4" stroke="#3a322d" stroke-width="2.6" />
<rect x="251.0" y="958.8" width="21.0" height="28.0" fill="#ece4d4" stroke="#3a322d" stroke-width="2.6" />
<line x1="251.0" y1="972.8" x2="272.0" y2="972.8" stroke="#3a322d" stroke-width="1.6" />
<rect x="277.0" y="957.8" width="14.0" height="14.0" fill="#ece4d4" stroke="#3a322d" stroke-width="2.6" />
<rect x="221.0" y="1005.6" width="5.0" height="10.0" fill="#3a322d" />
<line x1="227.0" y1="1014.6" x2="245.0" y2="1014.6" stroke="#3a322d" stroke-width="1.4" />
<rect x="340.5" y="956.8" width="16.0" height="14.0" fill="#ece4d4" stroke="#3a322d" stroke-width="2.6" />
<rect x="363.5" y="955.3" width="96.0" height="27.5" fill="#ece4d4" stroke="#3a322d" stroke-width="3" />
<line x1="363.5" y1="969.0" x2="459.5" y2="969.0" stroke="#3a322d" stroke-width="2.4" />
<line x1="375.5" y1="955.3" x2="375.5" y2="982.8" stroke="#3a322d" stroke-width="1.5" />
<line x1="387.5" y1="955.3" x2="387.5" y2="982.8" stroke="#3a322d" stroke-width="3" />
<line x1="399.5" y1="955.3" x2="399.5" y2="982.8" stroke="#3a322d" stroke-width="1.5" />
<line x1="411.5" y1="955.3" x2="411.5" y2="982.8" stroke="#3a322d" stroke-width="3" />
<line x1="423.5" y1="955.3" x2="423.5" y2="982.8" stroke="#3a322d" stroke-width="1.5" />
<line x1="435.5" y1="955.3" x2="435.5" y2="982.8" stroke="#3a322d" stroke-width="3" />
<line x1="447.5" y1="955.3" x2="447.5" y2="982.8" stroke="#3a322d" stroke-width="1.5" />
<rect x="466.5" y="957.8" width="15.0" height="14.0" fill="#ece4d4" stroke="#3a322d" stroke-width="2.6" />
<line x1="338.5" y1="969.8" x2="363.5" y2="980.8" stroke="#3a322d" stroke-width="1.4" />
<line x1="486.5" y1="969.8" x2="459.5" y2="980.8" stroke="#3a322d" stroke-width="1.4" />
<path d="M337.5,1007.5999999999999 L376.5,1007.5999999999999 Q383.5,1008.5999999999999 388.5,1027.6" fill="none" stroke="#3a322d" stroke-width="1.8" />
<rect x="340.5" y="1009.6" width="15.0" height="13.0" fill="#ece4d4" stroke="#3a322d" stroke-width="2.6" />
<path d="M487.5,1007.5999999999999 L448.5,1007.5999999999999 Q441.5,1008.5999999999999 436.5,1027.6" fill="none" stroke="#3a322d" stroke-width="1.8" />
<rect x="468.5" y="1009.6" width="15.0" height="13.0" fill="#ece4d4" stroke="#3a322d" stroke-width="2.6" />
<rect x="529.0" y="956.8" width="16.0" height="14.0" fill="#ece4d4" stroke="#3a322d" stroke-width="2.6" />
<rect x="552.0" y="955.3" width="93.8" height="27.5" fill="#ece4d4" stroke="#3a322d" stroke-width="3" />
<line x1="552.0" y1="969.0" x2="645.8" y2="969.0" stroke="#3a322d" stroke-width="2.4" />
<line x1="563.7" y1="955.3" x2="563.7" y2="982.8" stroke="#3a322d" stroke-width="1.5" />
<line x1="575.5" y1="955.3" x2="575.5" y2="982.8" stroke="#3a322d" stroke-width="3" />
<line x1="587.2" y1="955.3" x2="587.2" y2="982.8" stroke="#3a322d" stroke-width="1.5" />
<line x1="598.9" y1="955.3" x2="598.9" y2="982.8" stroke="#3a322d" stroke-width="3" />
<line x1="610.6" y1="955.3" x2="610.6" y2="982.8" stroke="#3a322d" stroke-width="1.5" />
<line x1="622.3" y1="955.3" x2="622.3" y2="982.8" stroke="#3a322d" stroke-width="3" />
<line x1="634.1" y1="955.3" x2="634.1" y2="982.8" stroke="#3a322d" stroke-width="1.5" />
<rect x="652.8" y="957.8" width="15.0" height="14.0" fill="#ece4d4" stroke="#3a322d" stroke-width="2.6" />
<line x1="527.0" y1="969.8" x2="552.0" y2="980.8" stroke="#3a322d" stroke-width="1.4" />
<line x1="672.8" y1="969.8" x2="645.8" y2="980.8" stroke="#3a322d" stroke-width="1.4" />
<path d="M526,1007.5999999999999 L565,1007.5999999999999 Q572,1008.5999999999999 577,1027.6" fill="none" stroke="#3a322d" stroke-width="1.8" />
<rect x="529.0" y="1009.6" width="15.0" height="13.0" fill="#ece4d4" stroke="#3a322d" stroke-width="2.6" />
<path d="M673.8,1007.5999999999999 L634.8,1007.5999999999999 Q627.8,1008.5999999999999 622.8,1027.6" fill="none" stroke="#3a322d" stroke-width="1.8" />
<rect x="654.8" y="1009.6" width="15.0" height="13.0" fill="#ece4d4" stroke="#3a322d" stroke-width="2.6" />
<rect x="717.4" y="956.8" width="16.0" height="14.0" fill="#ece4d4" stroke="#3a322d" stroke-width="2.6" />
<rect x="740.4" y="955.3" width="93.2" height="27.5" fill="#ece4d4" stroke="#3a322d" stroke-width="3" />
<line x1="740.4" y1="969.0" x2="833.6" y2="969.0" stroke="#3a322d" stroke-width="2.4" />
<line x1="752.0" y1="955.3" x2="752.0" y2="982.8" stroke="#3a322d" stroke-width="1.5" />
<line x1="763.7" y1="955.3" x2="763.7" y2="982.8" stroke="#3a322d" stroke-width="3" />
<line x1="775.4" y1="955.3" x2="775.4" y2="982.8" stroke="#3a322d" stroke-width="1.5" />
<line x1="787.0" y1="955.3" x2="787.0" y2="982.8" stroke="#3a322d" stroke-width="3" />
<line x1="798.6" y1="955.3" x2="798.6" y2="982.8" stroke="#3a322d" stroke-width="1.5" />
<line x1="810.3" y1="955.3" x2="810.3" y2="982.8" stroke="#3a322d" stroke-width="3" />
<line x1="822.0" y1="955.3" x2="822.0" y2="982.8" stroke="#3a322d" stroke-width="1.5" />
<rect x="840.6" y="957.8" width="15.0" height="14.0" fill="#ece4d4" stroke="#3a322d" stroke-width="2.6" />
<line x1="715.4" y1="969.8" x2="740.4" y2="980.8" stroke="#3a322d" stroke-width="1.4" />
<line x1="860.6" y1="969.8" x2="833.6" y2="980.8" stroke="#3a322d" stroke-width="1.4" />
<path d="M714.4,1007.5999999999999 L753.4,1007.5999999999999 Q760.4,1008.5999999999999 765.4,1027.6" fill="none" stroke="#3a322d" stroke-width="1.8" />
<rect x="717.4" y="1009.6" width="15.0" height="13.0" fill="#ece4d4" stroke="#3a322d" stroke-width="2.6" />
<path d="M861.6,1007.5999999999999 L822.6,1007.5999999999999 Q815.6,1008.5999999999999 810.6,1027.6" fill="none" stroke="#3a322d" stroke-width="1.8" />
<rect x="842.6" y="1009.6" width="15.0" height="13.0" fill="#ece4d4" stroke="#3a322d" stroke-width="2.6" />
<rect x="904.8" y="956.8" width="16.0" height="14.0" fill="#ece4d4" stroke="#3a322d" stroke-width="2.6" />
<rect x="927.8" y="955.3" width="92.4" height="27.5" fill="#ece4d4" stroke="#3a322d" stroke-width="3" />
<line x1="927.8" y1="969.0" x2="1020.2" y2="969.0" stroke="#3a322d" stroke-width="2.4" />
<line x1="939.3" y1="955.3" x2="939.3" y2="982.8" stroke="#3a322d" stroke-width="1.5" />
<line x1="950.9" y1="955.3" x2="950.9" y2="982.8" stroke="#3a322d" stroke-width="3" />
<line x1="962.5" y1="955.3" x2="962.5" y2="982.8" stroke="#3a322d" stroke-width="1.5" />
<line x1="974.0" y1="955.3" x2="974.0" y2="982.8" stroke="#3a322d" stroke-width="3" />
<line x1="985.5" y1="955.3" x2="985.5" y2="982.8" stroke="#3a322d" stroke-width="1.5" />
<line x1="997.1" y1="955.3" x2="997.1" y2="982.8" stroke="#3a322d" stroke-width="3" />
<line x1="1008.7" y1="955.3" x2="1008.7" y2="982.8" stroke="#3a322d" stroke-width="1.5" />
<rect x="1027.2" y="957.8" width="15.0" height="14.0" fill="#ece4d4" stroke="#3a322d" stroke-width="2.6" />
<line x1="902.8" y1="969.8" x2="927.8" y2="980.8" stroke="#3a322d" stroke-width="1.4" />
<line x1="1047.2" y1="969.8" x2="1020.2" y2="980.8" stroke="#3a322d" stroke-width="1.4" />
<path d="M901.8,1007.5999999999999 L940.8,1007.5999999999999 Q947.8,1008.5999999999999 952.8,1027.6" fill="none" stroke="#3a322d" stroke-width="1.8" />
<rect x="904.8" y="1009.6" width="15.0" height="13.0" fill="#ece4d4" stroke="#3a322d" stroke-width="2.6" />
<path d="M1048.2,1007.5999999999999 L1009.2,1007.5999999999999 Q1002.2,1008.5999999999999 997.2,1027.6" fill="none" stroke="#3a322d" stroke-width="1.8" />
<rect x="1029.2" y="1009.6" width="15.0" height="13.0" fill="#ece4d4" stroke="#3a322d" stroke-width="2.6" />
<rect x="1093.4" y="956.8" width="16.0" height="14.0" fill="#ece4d4" stroke="#3a322d" stroke-width="2.6" />
<rect x="1116.4" y="955.3" width="92.0" height="27.5" fill="#ece4d4" stroke="#3a322d" stroke-width="3" />
<line x1="1116.4" y1="969.0" x2="1208.4" y2="969.0" stroke="#3a322d" stroke-width="2.4" />
<line x1="1127.9" y1="955.3" x2="1127.9" y2="982.8" stroke="#3a322d" stroke-width="1.5" />
<line x1="1139.4" y1="955.3" x2="1139.4" y2="982.8" stroke="#3a322d" stroke-width="3" />
<line x1="1150.9" y1="955.3" x2="1150.9" y2="982.8" stroke="#3a322d" stroke-width="1.5" />
<line x1="1162.4" y1="955.3" x2="1162.4" y2="982.8" stroke="#3a322d" stroke-width="3" />
<line x1="1173.9" y1="955.3" x2="1173.9" y2="982.8" stroke="#3a322d" stroke-width="1.5" />
<line x1="1185.4" y1="955.3" x2="1185.4" y2="982.8" stroke="#3a322d" stroke-width="3" />
<line x1="1196.9" y1="955.3" x2="1196.9" y2="982.8" stroke="#3a322d" stroke-width="1.5" />
<rect x="1215.4" y="957.8" width="15.0" height="14.0" fill="#ece4d4" stroke="#3a322d" stroke-width="2.6" />
<line x1="1091.4" y1="969.8" x2="1116.4" y2="980.8" stroke="#3a322d" stroke-width="1.4" />
<line x1="1235.4" y1="969.8" x2="1208.4" y2="980.8" stroke="#3a322d" stroke-width="1.4" />
<path d="M1090.4,1007.5999999999999 L1129.4,1007.5999999999999 Q1136.4,1008.5999999999999 1141.4,1027.6" fill="none" stroke="#3a322d" stroke-width="1.8" />
<rect x="1093.4" y="1009.6" width="15.0" height="13.0" fill="#ece4d4" stroke="#3a322d" stroke-width="2.6" />
<path d="M1236.4,1007.5999999999999 L1197.4,1007.5999999999999 Q1190.4,1008.5999999999999 1185.4,1027.6" fill="none" stroke="#3a322d" stroke-width="1.8" />
<rect x="1217.4" y="1009.6" width="15.0" height="13.0" fill="#ece4d4" stroke="#3a322d" stroke-width="2.6" />
<rect x="300.3" y="952.8" width="36.2" height="16.0" fill="#f2ecdf" stroke="#3a322d" stroke-width="1.8" />
<rect x="300.3" y="1007.6" width="36.2" height="20.0" fill="#f2ecdf" stroke="#3a322d" stroke-width="1.8" />
<line x1="300.3" y1="963.8" x2="336.5" y2="963.8" stroke="#3a322d" stroke-width="1.4" />
<line x1="300.3" y1="1015.6" x2="336.5" y2="1015.6" stroke="#3a322d" stroke-width="1.2" />
<line x1="318.4" y1="948.8" x2="318.4" y2="1032.6" stroke="#8d857a" stroke-width="1" stroke-dasharray="10 3 2 3"/>
<rect x="488.5" y="952.8" width="36.5" height="16.0" fill="#f2ecdf" stroke="#3a322d" stroke-width="1.8" />
<rect x="488.5" y="1007.6" width="36.5" height="20.0" fill="#f2ecdf" stroke="#3a322d" stroke-width="1.8" />
<line x1="488.5" y1="963.8" x2="525.0" y2="963.8" stroke="#3a322d" stroke-width="1.4" />
<line x1="488.5" y1="1015.6" x2="525.0" y2="1015.6" stroke="#3a322d" stroke-width="1.2" />
<line x1="506.8" y1="948.8" x2="506.8" y2="1032.6" stroke="#8d857a" stroke-width="1" stroke-dasharray="10 3 2 3"/>
<rect x="674.8" y="952.8" width="38.6" height="16.0" fill="#f2ecdf" stroke="#3a322d" stroke-width="1.8" />
<rect x="674.8" y="1007.6" width="38.6" height="20.0" fill="#f2ecdf" stroke="#3a322d" stroke-width="1.8" />
<line x1="674.8" y1="963.8" x2="713.4" y2="963.8" stroke="#3a322d" stroke-width="1.4" />
<line x1="674.8" y1="1015.6" x2="713.4" y2="1015.6" stroke="#3a322d" stroke-width="1.2" />
<line x1="694.1" y1="948.8" x2="694.1" y2="1032.6" stroke="#8d857a" stroke-width="1" stroke-dasharray="10 3 2 3"/>
<rect x="862.6" y="952.8" width="38.2" height="16.0" fill="#f2ecdf" stroke="#3a322d" stroke-width="1.8" />
<rect x="862.6" y="1007.6" width="38.2" height="20.0" fill="#f2ecdf" stroke="#3a322d" stroke-width="1.8" />
<line x1="862.6" y1="963.8" x2="900.8" y2="963.8" stroke="#3a322d" stroke-width="1.4" />
<line x1="862.6" y1="1015.6" x2="900.8" y2="1015.6" stroke="#3a322d" stroke-width="1.2" />
<line x1="881.7" y1="948.8" x2="881.7" y2="1032.6" stroke="#8d857a" stroke-width="1" stroke-dasharray="10 3 2 3"/>
<rect x="1049.2" y="952.8" width="40.2" height="16.0" fill="#f2ecdf" stroke="#3a322d" stroke-width="1.8" />
<rect x="1049.2" y="1007.6" width="40.2" height="20.0" fill="#f2ecdf" stroke="#3a322d" stroke-width="1.8" />
<line x1="1049.2" y1="963.8" x2="1089.4" y2="963.8" stroke="#3a322d" stroke-width="1.4" />
<line x1="1049.2" y1="1015.6" x2="1089.4" y2="1015.6" stroke="#3a322d" stroke-width="1.2" />
<line x1="1069.3" y1="948.8" x2="1069.3" y2="1032.6" stroke="#8d857a" stroke-width="1" stroke-dasharray="10 3 2 3"/>
<rect x="1237.4" y="952.8" width="39.6" height="16.0" fill="#f2ecdf" stroke="#3a322d" stroke-width="1.8" />
<rect x="1237.4" y="1007.6" width="39.6" height="20.0" fill="#f2ecdf" stroke="#3a322d" stroke-width="1.8" />
<line x1="1237.4" y1="963.8" x2="1277.0" y2="963.8" stroke="#3a322d" stroke-width="1.4" />
<line x1="1237.4" y1="1015.6" x2="1277.0" y2="1015.6" stroke="#3a322d" stroke-width="1.2" />
<line x1="1257.2" y1="948.8" x2="1257.2" y2="1032.6" stroke="#8d857a" stroke-width="1" stroke-dasharray="10 3 2 3"/>
</g>
<g transform="matrix(1,0.0026,0,1,0,-0.512)">
<rect x="493.8" y="968.8" width="26.0" height="5.0" fill="#ddd5c6" stroke="#3a322d" stroke-width="1.4" />
<rect x="492.8" y="1001.6" width="28.0" height="6.0" fill="#ddd5c6" stroke="#3a322d" stroke-width="1.4" />
<circle cx="506.75" cy="991.1999999999999" r="16.5" fill="#f1ebdd" stroke="#3a322d" stroke-width="1.7"/>
<line x1="501.8" y1="991.2" x2="511.8" y2="991.2" stroke="#3a322d" stroke-width="1" />
<line x1="506.8" y1="986.2" x2="506.8" y2="996.2" stroke="#3a322d" stroke-width="1" />
<rect x="681.1" y="968.8" width="26.0" height="5.0" fill="#ddd5c6" stroke="#3a322d" stroke-width="1.4" />
<rect x="680.1" y="1001.6" width="28.0" height="6.0" fill="#ddd5c6" stroke="#3a322d" stroke-width="1.4" />
<circle cx="694.0999999999999" cy="991.1999999999999" r="16.5" fill="#f1ebdd" stroke="#3a322d" stroke-width="1.7"/>
<line x1="689.1" y1="991.2" x2="699.1" y2="991.2" stroke="#3a322d" stroke-width="1" />
<line x1="694.1" y1="986.2" x2="694.1" y2="996.2" stroke="#3a322d" stroke-width="1" />
<rect x="868.7" y="968.8" width="26.0" height="5.0" fill="#ddd5c6" stroke="#3a322d" stroke-width="1.4" />
<rect x="867.7" y="1001.6" width="28.0" height="6.0" fill="#ddd5c6" stroke="#3a322d" stroke-width="1.4" />
<circle cx="881.7" cy="991.1999999999999" r="16.5" fill="#f1ebdd" stroke="#3a322d" stroke-width="1.7"/>
<line x1="876.7" y1="991.2" x2="886.7" y2="991.2" stroke="#3a322d" stroke-width="1" />
<line x1="881.7" y1="986.2" x2="881.7" y2="996.2" stroke="#3a322d" stroke-width="1" />
<rect x="1056.3" y="968.8" width="26.0" height="5.0" fill="#ddd5c6" stroke="#3a322d" stroke-width="1.4" />
<rect x="1055.3" y="1001.6" width="28.0" height="6.0" fill="#ddd5c6" stroke="#3a322d" stroke-width="1.4" />
<circle cx="1069.3000000000002" cy="991.1999999999999" r="16.5" fill="#f1ebdd" stroke="#3a322d" stroke-width="1.7"/>
<line x1="1064.3" y1="991.2" x2="1074.3" y2="991.2" stroke="#3a322d" stroke-width="1" />
<line x1="1069.3" y1="986.2" x2="1069.3" y2="996.2" stroke="#3a322d" stroke-width="1" />
</g>
<g transform="matrix(1,0.0026,0,1,0,-0.512)">
<path d="M1285,956.8 L1313,956.8 L1307,996.8 L1289,996.8 Z" fill="none" stroke="#3a322d" stroke-width="2" />
<line x1="1290.0" y1="966.8" x2="1310.0" y2="966.8" stroke="#3a322d" stroke-width="1.6" />
<line x1="1289.0" y1="990.8" x2="1307.0" y2="990.8" stroke="#3a322d" stroke-width="1.4" />
<path d="M1316,955.8 L1316,998.8 L1338,1021.5999999999999" fill="none" stroke="#3a322d" stroke-width="2.6" />
<rect x="1323.0" y="962.8" width="18.0" height="30.0" fill="#d9d1c3" stroke="#3a322d" stroke-width="1.6" />
<line x1="1324.0" y1="967.8" x2="1340.0" y2="967.8" stroke="#6d655d" stroke-width="1.4" />
<line x1="1324.0" y1="973.8" x2="1340.0" y2="973.8" stroke="#6d655d" stroke-width="1.4" />
<line x1="1324.0" y1="979.8" x2="1340.0" y2="979.8" stroke="#6d655d" stroke-width="1.4" />
<line x1="1324.0" y1="985.8" x2="1340.0" y2="985.8" stroke="#6d655d" stroke-width="1.4" />
<path d="M1345,960.8 Q1354,990.1999999999999 1345,1015.5999999999999" fill="none" stroke="#3a322d" stroke-width="2.6" />
<path d="M1354,962.8 Q1364,990.1999999999999 1354,1013.5999999999999" fill="none" stroke="#3a322d" stroke-width="2" />
<line x1="1326.0" y1="1002.8" x2="1338.0" y2="1019.6" stroke="#3a322d" stroke-width="1.6" />
<line x1="1332.0" y1="1002.8" x2="1344.0" y2="1019.6" stroke="#3a322d" stroke-width="1.6" />
<line x1="1338.0" y1="1002.8" x2="1350.0" y2="1019.6" stroke="#3a322d" stroke-width="1.6" />
<line x1="1344.0" y1="1002.8" x2="1356.0" y2="1019.6" stroke="#3a322d" stroke-width="1.6" />
<rect x="1369.0" y="969.8" width="6.0" height="8.0" fill="#ece4d4" stroke="#3a322d" stroke-width="1.6" />
<rect x="1369.0" y="981.3" width="6.0" height="8.0" fill="#ece4d4" stroke="#3a322d" stroke-width="1.6" />
<rect x="1369.0" y="992.8" width="6.0" height="8.0" fill="#ece4d4" stroke="#3a322d" stroke-width="1.6" />
<rect x="1369.0" y="1004.3" width="6.0" height="8.0" fill="#ece4d4" stroke="#3a322d" stroke-width="1.6" />
</g>
<g transform="matrix(1,0.0026,0,1,0,-0.512)">
<path d="M227,952.8 L1330,952.8 Q1370,955.8 1378,974.8 L1378,1005.5999999999999 Q1370,1024.6 1330,1027.6 L295,1027.6 L219,1020.5999999999999 Q199,1017.5999999999999 197,1011.5999999999999 L197,964.8 Q199,954.8 227,952.8 Z" fill="none" stroke="#2a2421" stroke-width="2.8" />
</g>
</g>
<g filter="url(#b2)">
<path d="M159.7,1133.8 L971,1135.7 L1404,1135.7" fill="none" stroke="#a19b99" stroke-width="2.3" />
<path d="M159.7,1166.0 L971,1169.8 L1404,1169.8" fill="none" stroke="#a19b99" stroke-width="2.7" />
<path d="M159.7,1202.0 L971,1205.6 L1404,1207.2" fill="none" stroke="#a19b99" stroke-width="2.7" />
<path d="M159.7,1239.7 L971,1241.6 L1404,1243.6" fill="none" stroke="#8a8482" stroke-width="1.8" />
<path d="M159.7,1276.0 L971,1279.4 L1404,1279.4" fill="none" stroke="#8a8482" stroke-width="1.8" />
<path d="M159.7,1338.0 L971,1341.3 L1404,1342.2" fill="none" stroke="#a19b99" stroke-width="2.7" />
<path d="M159.7,1401.0 L971,1405.8 L1404,1407.4" fill="none" stroke="#4d4846" stroke-width="1.5" />
<path d="M159.7,1441.8 L971,1443.8 L1404,1445.7" fill="none" stroke="#8a8482" stroke-width="1.8" />
<path d="M159.7,1476.0 L971,1477.3 L1404,1479.8" fill="none" stroke="#8a8482" stroke-width="1.8" />
<path d="M159.7,1553.4 L971,1556.0 L1404,1556.8" fill="none" stroke="#a19b99" stroke-width="2.9" />
<path d="M159.7,1589.4 L971,1592.7 L1404,1594.6" fill="none" stroke="#8a8482" stroke-width="2.4" />
<path d="M159.7,1623.7 L971,1626.6 L1404,1628.7" fill="none" stroke="#a19b99" stroke-width="2.5" />
<path d="M159.7,1661.6 L971,1665.5 L1404,1666.4" fill="none" stroke="#a19b99" stroke-width="2.5" />
<path d="M159.7,1700.5 L971,1704.4 L1404,1704.4" fill="none" stroke="#8a8482" stroke-width="2.0" />
<path d="M159.7,1739.2 L971,1741.0 L1404,1742.1" fill="none" stroke="#8a8482" stroke-width="1.8" />
<path d="M159.7,1774.7 L971,1778.5 L1404,1778.5" fill="none" stroke="#8a8482" stroke-width="1.8" />
<path d="M159.7,1812.0 L971,1816.8 L1404,1817.8" fill="none" stroke="#4d4846" stroke-width="1.9" />
<path d="M159.7,1850.0 L971,1853.2 L1404,1854.2" fill="none" stroke="#a19b99" stroke-width="2.7" />
<path d="M159.7,1884.8 L971,1888.7 L1404,1889.0" fill="none" stroke="#a19b99" stroke-width="2.5" />
<path d="M159.7,1951.9 L971,1956.7 L1404,1956.1" fill="none" stroke="#a19b99" stroke-width="2.9" />
<line x1="159.7" y1="1133.0" x2="159.2" y2="1952.5" stroke="#9a9492" stroke-width="2.6" />
<line x1="971.0" y1="1135.0" x2="968.5" y2="1957.0" stroke="#4d4846" stroke-width="2.0" />
<line x1="1404.5" y1="1135.0" x2="1403.5" y2="1956.5" stroke="#a39d9b" stroke-width="2.6" />
<line x1="1197.0" y1="1136.0" x2="1197.0" y2="1170.0" stroke="#8b8583" stroke-width="2.2" />
<line x1="1196.5" y1="1206.5" x2="1196.5" y2="1243.0" stroke="#8b8583" stroke-width="2.4" />
<line x1="1195.0" y1="1593.5" x2="1194.5" y2="1741.5" stroke="#5d5856" stroke-width="1.8" />
</g>
<g filter="url(#b1)">
<text x="183.5" y="1159.3" font-size="19.8" font-weight="bold" font-style="normal" fill="#1f1c1c" font-family="Liberation Sans" text-anchor="start" textLength="568.3" lengthAdjust="spacingAndGlyphs" >Technische Daten, Technical Data, Données Techniques</text>
<text x="182.7" y="1188.6" font-size="22.4" font-weight="normal" font-style="normal" fill="#484343" font-family="Liberation Sans" text-anchor="start" textLength="336.5" lengthAdjust="spacingAndGlyphs" >Spurweite/Track gauge/Ecartement</text>
<text x="182.7" y="1226.9" font-size="22.4" font-weight="normal" font-style="normal" fill="#484343" font-family="Liberation Sans" text-anchor="start" textLength="228.3" lengthAdjust="spacingAndGlyphs" >Länge/Length/Longueur</text>
<text x="182.7" y="1262.4" font-size="22.4" font-weight="normal" font-style="normal" fill="#484343" font-family="Liberation Sans" text-anchor="start" textLength="199.1" lengthAdjust="spacingAndGlyphs" >Breite/Width/Largeur</text>
<text x="182.7" y="1300.6" font-size="22.4" font-weight="normal" font-style="normal" fill="#484343" font-family="Liberation Sans" text-anchor="start" textLength="556.1" lengthAdjust="spacingAndGlyphs" >Einstiegshöhe über SOK/Entrance height above top of rail/</text>
<text x="182.7" y="1328.1" font-size="22.4" font-weight="normal" font-style="normal" fill="#484343" font-family="Liberation Sans" text-anchor="start" textLength="522.3" lengthAdjust="spacingAndGlyphs" >Hauteur d`accès au dessus de la surface de roulement</text>
<text x="182.7" y="1365.8" font-size="22.4" font-weight="normal" font-style="normal" fill="#484343" font-family="Liberation Sans" text-anchor="start" textLength="528.4" lengthAdjust="spacingAndGlyphs" >Fußbodenhöhe über SOK/Floor height above top of rail/</text>
<text x="182.7" y="1392.6" font-size="22.4" font-weight="normal" font-style="normal" fill="#484343" font-family="Liberation Sans" text-anchor="start" textLength="507.3" lengthAdjust="spacingAndGlyphs" >Hauteur du sol au dessus de la surface de roulement</text>
<text x="182.7" y="1427.1" font-size="22.4" font-weight="normal" font-style="normal" fill="#484343" font-family="Liberation Sans" text-anchor="start" textLength="439.0" lengthAdjust="spacingAndGlyphs" >Niederfluranteil/Ultra low floor/Part surbaissée</text>
<text x="182.7" y="1464.6" font-size="22.4" font-weight="normal" font-style="normal" fill="#484343" font-family="Liberation Sans" text-anchor="start" textLength="515.1" lengthAdjust="spacingAndGlyphs" >Raddurchmesser/Wheel diameter/Diamètre des roues</text>
<text x="182.7" y="1501.8" font-size="22.4" font-weight="normal" font-style="normal" fill="#484343" font-family="Liberation Sans" text-anchor="start" textLength="473.5" lengthAdjust="spacingAndGlyphs" >Fahrwerke/Running gear/Dispositifs de roulement</text>
<text x="182.7" y="1577.0" font-size="22.4" font-weight="normal" font-style="normal" fill="#484343" font-family="Liberation Sans" text-anchor="start" textLength="493.1" lengthAdjust="spacingAndGlyphs" >Platzangebot/Passenger capacity/Places disponibles</text>
<text x="182.7" y="1614.4" font-size="22.4" font-weight="normal" font-style="normal" fill="#484343" font-family="Liberation Sans" text-anchor="start" textLength="396.3" lengthAdjust="spacingAndGlyphs" >Sitzplätze/Seating capacity/Places assises</text>
<text x="182.7" y="1651.6" font-size="22.4" font-weight="normal" font-style="normal" fill="#484343" font-family="Liberation Sans" text-anchor="start" textLength="699.5" lengthAdjust="spacingAndGlyphs" >Stehplätze (4 Pers./m²)/Standing capacity (4 p./m²)/Places debout (4 p./m²)</text>
<text x="182.7" y="1688.1" font-size="22.4" font-weight="normal" font-style="normal" fill="#484343" font-family="Liberation Sans" text-anchor="start" textLength="473.5" lengthAdjust="spacingAndGlyphs" >Anzahl Türen/Number of doors/Nombre de portes</text>
<text x="182.7" y="1725.1" font-size="22.4" font-weight="normal" font-style="normal" fill="#484343" font-family="Liberation Sans" text-anchor="start" textLength="674.3" lengthAdjust="spacingAndGlyphs" >Motorleistung dauernd/Continous rating/Puissance continue du moteur</text>
<text x="182.7" y="1760.9" font-size="22.4" font-weight="normal" font-style="normal" fill="#484343" font-family="Liberation Sans" text-anchor="start" textLength="571.9" lengthAdjust="spacingAndGlyphs" >Fahrzeugsteuerung/Vehicle controls/Commande du véhicule</text>
<text x="182.7" y="1798.3" font-size="22.4" font-weight="normal" font-style="normal" fill="#484343" font-family="Liberation Sans" text-anchor="start" textLength="545.5" lengthAdjust="spacingAndGlyphs" >Höchstgeschwindigkeit/Maximum speed/Vitesse maxima</text>
<text x="182.7" y="1835.6" font-size="22.4" font-weight="normal" font-style="normal" fill="#484343" font-family="Liberation Sans" text-anchor="start" textLength="749.6" lengthAdjust="spacingAndGlyphs" >Max. Anfahrbeschl./Max. starting acceleration/Accélération max. au démarrage</text>
<text x="182.7" y="1872.4" font-size="22.4" font-weight="normal" font-style="normal" fill="#484343" font-family="Liberation Sans" text-anchor="start" textLength="663.4" lengthAdjust="spacingAndGlyphs" >Max. Bremsverzögerung/Max. braking deceleration/Décélération max.</text>
<text x="182.7" y="1910.3" font-size="22.4" font-weight="normal" font-style="normal" fill="#484343" font-family="Liberation Sans" text-anchor="start" textLength="675.1" lengthAdjust="spacingAndGlyphs" >Ausführung gemäß VDV-Richtlinien/Design in acc. with VDV directives/</text>
<text x="182.7" y="1937.2" font-size="22.4" font-weight="normal" font-style="normal" fill="#484343" font-family="Liberation Sans" text-anchor="start" textLength="408.5" lengthAdjust="spacingAndGlyphs" >Exécution conforme aux prescriptions VDV</text>
<text x="1025.0" y="1163.0" font-size="19.8" font-weight="bold" font-style="normal" fill="#1f1c1c" font-family="Liberation Sans" text-anchor="start" textLength="101.7" lengthAdjust="spacingAndGlyphs" >ULF 197-4</text>
<text x="1246.7" y="1164.0" font-size="19.8" font-weight="bold" font-style="normal" fill="#1f1c1c" font-family="Liberation Sans" text-anchor="start" textLength="103.6" lengthAdjust="spacingAndGlyphs" >ULF 197-6</text>
<text x="1136.9" y="1197.6" font-size="22.4" font-weight="normal" font-style="normal" fill="#484343" font-family="Liberation Sans" text-anchor="start" textLength="98.3" lengthAdjust="spacingAndGlyphs" >1.435 mm</text>
<text x="1040.5" y="1233.4" font-size="22.4" font-weight="normal" font-style="normal" fill="#484343" font-family="Liberation Sans" text-anchor="start" textLength="69.9" lengthAdjust="spacingAndGlyphs" >24,2 m</text>
<text x="1262.9" y="1234.0" font-size="22.4" font-weight="normal" font-style="normal" fill="#484343" font-family="Liberation Sans" text-anchor="start" textLength="70.8" lengthAdjust="spacingAndGlyphs" >35,5 m</text>
<text x="1159.2" y="1268.0" font-size="22.4" font-weight="normal" font-style="normal" fill="#484343" font-family="Liberation Sans" text-anchor="start" textLength="56.9" lengthAdjust="spacingAndGlyphs" >2,4 m</text>
<text x="1154.4" y="1317.6" font-size="22.4" font-weight="normal" font-style="normal" fill="#484343" font-family="Liberation Sans" text-anchor="start" textLength="79.6" lengthAdjust="spacingAndGlyphs" >180 mm</text>
<text x="1151.5" y="1382.6" font-size="22.4" font-weight="normal" font-style="normal" fill="#484343" font-family="Liberation Sans" text-anchor="start" textLength="82.3" lengthAdjust="spacingAndGlyphs" >205 mm</text>
<text x="1154.4" y="1435.5" font-size="22.4" font-weight="normal" font-style="normal" fill="#484343" font-family="Liberation Sans" text-anchor="start" textLength="66.6" lengthAdjust="spacingAndGlyphs" >100  %</text>
<text x="1152.2" y="1470.0" font-size="22.4" font-weight="normal" font-style="normal" fill="#484343" font-family="Liberation Sans" text-anchor="start" textLength="87.1" lengthAdjust="spacingAndGlyphs" >670  mm</text>
<text x="976.2" y="1499.8" font-size="16.3" font-weight="normal" font-style="normal" fill="#484343" font-family="Liberation Sans" text-anchor="start" textLength="246.0" lengthAdjust="spacingAndGlyphs" >radial gesteuerte Portalfahrwerke</text>
<text x="976.2" y="1523.0" font-size="16.3" font-weight="normal" font-style="normal" fill="#484343" font-family="Liberation Sans" text-anchor="start" textLength="272.5" lengthAdjust="spacingAndGlyphs" >radially controlled portal running gear</text>
<text x="976.2" y="1547.3" font-size="16.3" font-weight="normal" font-style="normal" fill="#484343" font-family="Liberation Sans" text-anchor="start" textLength="416.8" lengthAdjust="spacingAndGlyphs" >Dispositifs de roulement à portique et orientation radiale</text>
<text x="1081.0" y="1619.3" font-size="22.4" font-weight="normal" font-style="normal" fill="#484343" font-family="Liberation Sans" text-anchor="middle" >42</text>
<text x="1307.5" y="1620.0" font-size="22.4" font-weight="normal" font-style="normal" fill="#484343" font-family="Liberation Sans" text-anchor="middle" >66</text>
<text x="1081.0" y="1656.7" font-size="22.4" font-weight="normal" font-style="normal" fill="#484343" font-family="Liberation Sans" text-anchor="middle" >102</text>
<text x="1307.5" y="1657.5" font-size="22.4" font-weight="normal" font-style="normal" fill="#484343" font-family="Liberation Sans" text-anchor="middle" >154</text>
<text x="1081.0" y="1694.5" font-size="22.4" font-weight="normal" font-style="normal" fill="#484343" font-family="Liberation Sans" text-anchor="middle" >5</text>
<text x="1307.5" y="1695.5" font-size="22.4" font-weight="normal" font-style="normal" fill="#484343" font-family="Liberation Sans" text-anchor="middle" >7</text>
<text x="1031.2" y="1730.3" font-size="22.4" font-weight="normal" font-style="normal" fill="#484343" font-family="Liberation Sans" text-anchor="start" textLength="101.1" lengthAdjust="spacingAndGlyphs" >6 x 60 kW</text>
<text x="1257.2" y="1731.0" font-size="22.4" font-weight="normal" font-style="normal" fill="#484343" font-family="Liberation Sans" text-anchor="start" textLength="101.3" lengthAdjust="spacingAndGlyphs" >8 x 60 kW</text>
<text x="1130.4" y="1767.7" font-size="22.4" font-weight="normal" font-style="normal" fill="#484343" font-family="Liberation Sans" text-anchor="start" textLength="176.8" lengthAdjust="spacingAndGlyphs" >SIBAS 32 / ELTAS</text>
<text x="1163.3" y="1805.1" font-size="22.4" font-weight="normal" font-style="normal" fill="#484343" font-family="Liberation Sans" text-anchor="start" textLength="84.1" lengthAdjust="spacingAndGlyphs" >70  km/h</text>
<text x="1156.4" y="1843.0" font-size="22.4" font-weight="normal" font-style="normal" fill="#484343" font-family="Liberation Sans" text-anchor="start" textLength="84.9" lengthAdjust="spacingAndGlyphs" >1,4  m/s²</text>
<text x="1156.4" y="1880.4" font-size="22.4" font-weight="normal" font-style="normal" fill="#484343" font-family="Liberation Sans" text-anchor="start" textLength="84.9" lengthAdjust="spacingAndGlyphs" >3,0  m/s²</text>
</g>
</svg>
</body></html>
